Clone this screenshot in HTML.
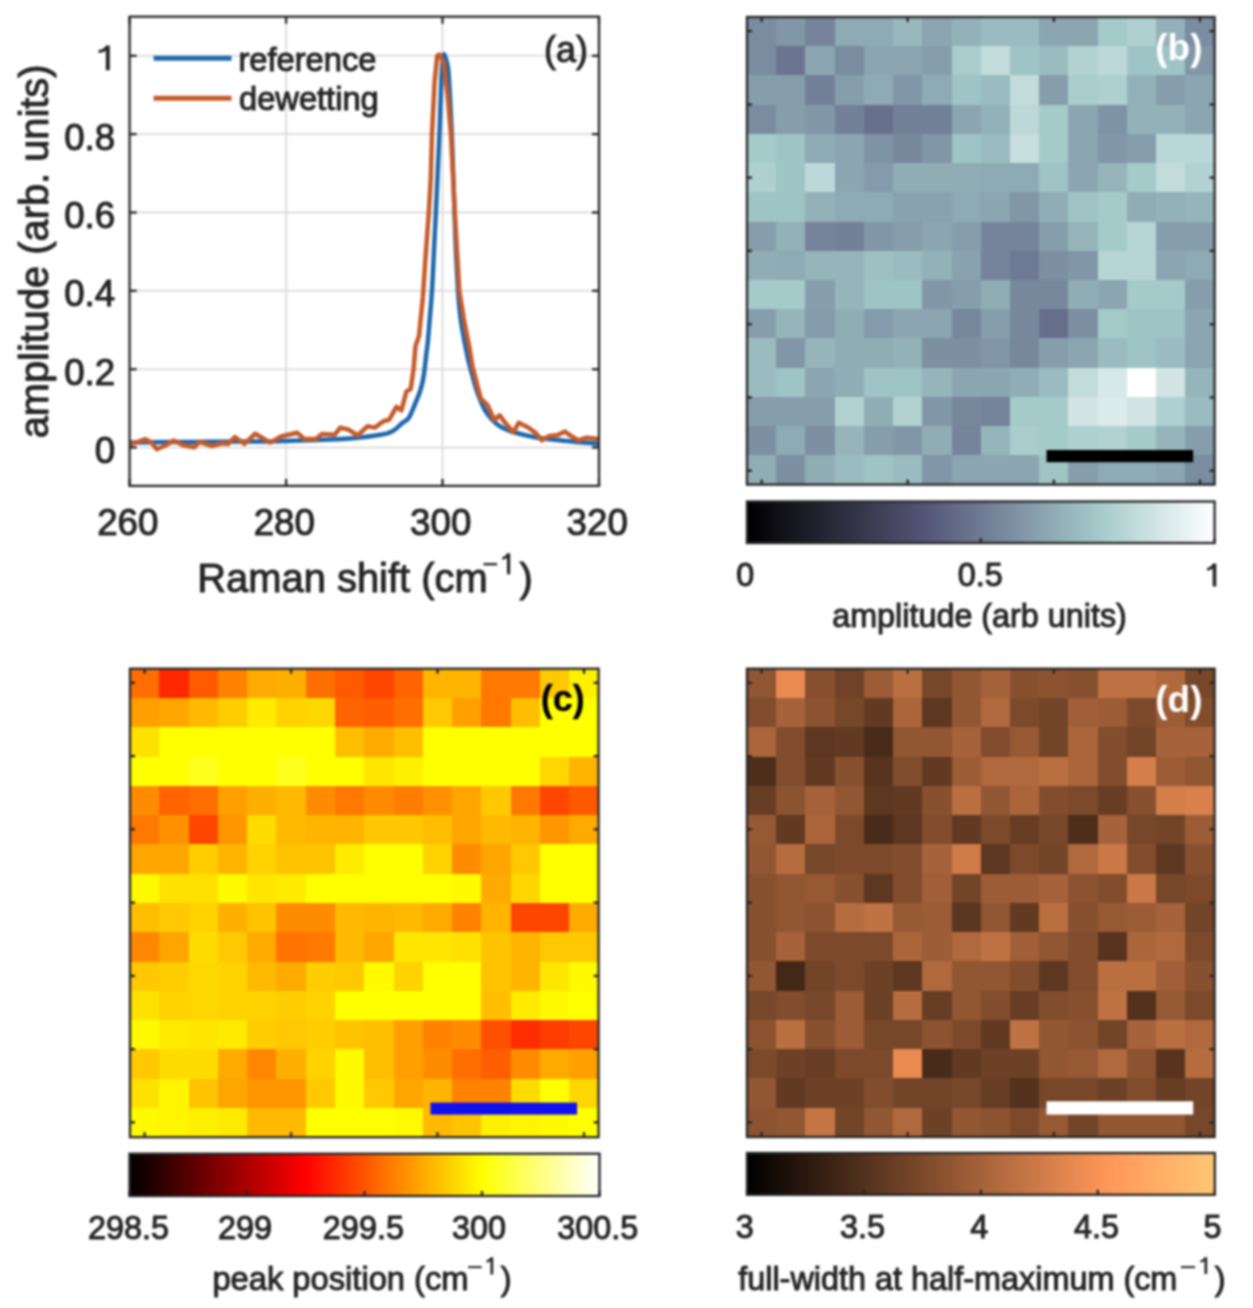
<!DOCTYPE html><html><head><meta charset="utf-8"><style>html,body{margin:0;padding:0;background:#fff;overflow:hidden;}svg{display:block;}text{font-family:"Liberation Sans",sans-serif;}</style></head><body>
<svg width="1253" height="1308" viewBox="0 0 1253 1308">
<defs><filter id="bl" x="-2%" y="-2%" width="104%" height="104%" color-interpolation-filters="sRGB"><feGaussianBlur stdDeviation="0.9"/></filter>
<linearGradient id="gb" x1="0" x2="1" y1="0" y2="0"><stop offset="0.0000" stop-color="#000000"/><stop offset="0.0078" stop-color="#020202"/><stop offset="0.0156" stop-color="#030305"/><stop offset="0.0234" stop-color="#050507"/><stop offset="0.0312" stop-color="#07070a"/><stop offset="0.0391" stop-color="#09090c"/><stop offset="0.0469" stop-color="#0a0a0e"/><stop offset="0.0547" stop-color="#0c0c11"/><stop offset="0.0625" stop-color="#0e0e13"/><stop offset="0.0703" stop-color="#101016"/><stop offset="0.0781" stop-color="#111118"/><stop offset="0.0859" stop-color="#13131a"/><stop offset="0.0938" stop-color="#15151d"/><stop offset="0.1016" stop-color="#17171f"/><stop offset="0.1094" stop-color="#181822"/><stop offset="0.1172" stop-color="#1a1a24"/><stop offset="0.1250" stop-color="#1c1c27"/><stop offset="0.1328" stop-color="#1e1e29"/><stop offset="0.1406" stop-color="#1f1f2b"/><stop offset="0.1484" stop-color="#21212e"/><stop offset="0.1562" stop-color="#232330"/><stop offset="0.1641" stop-color="#252533"/><stop offset="0.1719" stop-color="#262635"/><stop offset="0.1797" stop-color="#282837"/><stop offset="0.1875" stop-color="#2a2a3a"/><stop offset="0.1953" stop-color="#2c2c3c"/><stop offset="0.2031" stop-color="#2d2d3f"/><stop offset="0.2109" stop-color="#2f2f41"/><stop offset="0.2188" stop-color="#313143"/><stop offset="0.2266" stop-color="#333346"/><stop offset="0.2344" stop-color="#343448"/><stop offset="0.2422" stop-color="#36364b"/><stop offset="0.2500" stop-color="#38384d"/><stop offset="0.2578" stop-color="#3a3a4f"/><stop offset="0.2656" stop-color="#3b3b52"/><stop offset="0.2734" stop-color="#3d3d54"/><stop offset="0.2812" stop-color="#3f3f57"/><stop offset="0.2891" stop-color="#404059"/><stop offset="0.2969" stop-color="#42425b"/><stop offset="0.3047" stop-color="#44445e"/><stop offset="0.3125" stop-color="#464661"/><stop offset="0.3203" stop-color="#474763"/><stop offset="0.3281" stop-color="#494966"/><stop offset="0.3359" stop-color="#4b4b68"/><stop offset="0.3438" stop-color="#4d4d6b"/><stop offset="0.3516" stop-color="#4e4e6d"/><stop offset="0.3594" stop-color="#505070"/><stop offset="0.3672" stop-color="#525273"/><stop offset="0.3750" stop-color="#535375"/><stop offset="0.3828" stop-color="#555677"/><stop offset="0.3906" stop-color="#575879"/><stop offset="0.3984" stop-color="#595b7b"/><stop offset="0.4062" stop-color="#5a5d7d"/><stop offset="0.4141" stop-color="#5c607f"/><stop offset="0.4219" stop-color="#5e6281"/><stop offset="0.4297" stop-color="#5f6482"/><stop offset="0.4375" stop-color="#616784"/><stop offset="0.4453" stop-color="#636986"/><stop offset="0.4531" stop-color="#646c88"/><stop offset="0.4609" stop-color="#666e8a"/><stop offset="0.4688" stop-color="#67718c"/><stop offset="0.4766" stop-color="#69738d"/><stop offset="0.4844" stop-color="#6b758f"/><stop offset="0.4922" stop-color="#6c7891"/><stop offset="0.5000" stop-color="#6e7a93"/><stop offset="0.5078" stop-color="#707d95"/><stop offset="0.5156" stop-color="#717f97"/><stop offset="0.5234" stop-color="#738298"/><stop offset="0.5312" stop-color="#74849a"/><stop offset="0.5391" stop-color="#76879c"/><stop offset="0.5469" stop-color="#78899e"/><stop offset="0.5547" stop-color="#798c9f"/><stop offset="0.5625" stop-color="#7b8ea1"/><stop offset="0.5703" stop-color="#7d90a3"/><stop offset="0.5781" stop-color="#7e93a4"/><stop offset="0.5859" stop-color="#8095a6"/><stop offset="0.5938" stop-color="#8298a8"/><stop offset="0.6016" stop-color="#839aa9"/><stop offset="0.6094" stop-color="#859dab"/><stop offset="0.6172" stop-color="#879fad"/><stop offset="0.6250" stop-color="#88a2ae"/><stop offset="0.6328" stop-color="#8aa4b0"/><stop offset="0.6406" stop-color="#8ca7b2"/><stop offset="0.6484" stop-color="#8da9b3"/><stop offset="0.6562" stop-color="#8facb5"/><stop offset="0.6641" stop-color="#91aeb7"/><stop offset="0.6719" stop-color="#92b1b8"/><stop offset="0.6797" stop-color="#94b3ba"/><stop offset="0.6875" stop-color="#96b5bc"/><stop offset="0.6953" stop-color="#97b8bd"/><stop offset="0.7031" stop-color="#99babf"/><stop offset="0.7109" stop-color="#9bbdc1"/><stop offset="0.7188" stop-color="#9cbfc2"/><stop offset="0.7266" stop-color="#9ec2c4"/><stop offset="0.7344" stop-color="#a0c4c6"/><stop offset="0.7422" stop-color="#a1c7c7"/><stop offset="0.7500" stop-color="#a3c9c9"/><stop offset="0.7578" stop-color="#a6cbcb"/><stop offset="0.7656" stop-color="#a9cccc"/><stop offset="0.7734" stop-color="#accece"/><stop offset="0.7812" stop-color="#aed0d0"/><stop offset="0.7891" stop-color="#b1d2d2"/><stop offset="0.7969" stop-color="#b4d3d3"/><stop offset="0.8047" stop-color="#b7d5d5"/><stop offset="0.8125" stop-color="#bad7d7"/><stop offset="0.8203" stop-color="#bdd8d8"/><stop offset="0.8281" stop-color="#c0dada"/><stop offset="0.8359" stop-color="#c3dcdc"/><stop offset="0.8438" stop-color="#c5dddd"/><stop offset="0.8516" stop-color="#c8dfdf"/><stop offset="0.8594" stop-color="#cbe1e1"/><stop offset="0.8672" stop-color="#cee2e2"/><stop offset="0.8750" stop-color="#d1e4e4"/><stop offset="0.8828" stop-color="#d4e6e6"/><stop offset="0.8906" stop-color="#d7e7e7"/><stop offset="0.8984" stop-color="#dae9e9"/><stop offset="0.9062" stop-color="#dcebeb"/><stop offset="0.9141" stop-color="#dfecec"/><stop offset="0.9219" stop-color="#e2eeee"/><stop offset="0.9297" stop-color="#e5f0f0"/><stop offset="0.9375" stop-color="#e8f2f2"/><stop offset="0.9453" stop-color="#ebf3f3"/><stop offset="0.9531" stop-color="#eef5f5"/><stop offset="0.9609" stop-color="#f1f7f7"/><stop offset="0.9688" stop-color="#f3f8f8"/><stop offset="0.9766" stop-color="#f6fafa"/><stop offset="0.9844" stop-color="#f9fcfc"/><stop offset="0.9922" stop-color="#fcfdfd"/><stop offset="1.0000" stop-color="#ffffff"/></linearGradient><linearGradient id="gc" x1="0" x2="1" y1="0" y2="0"><stop offset="0.0000" stop-color="#000000"/><stop offset="0.0078" stop-color="#050000"/><stop offset="0.0156" stop-color="#0b0000"/><stop offset="0.0234" stop-color="#100000"/><stop offset="0.0312" stop-color="#150000"/><stop offset="0.0391" stop-color="#1b0000"/><stop offset="0.0469" stop-color="#200000"/><stop offset="0.0547" stop-color="#250000"/><stop offset="0.0625" stop-color="#2a0000"/><stop offset="0.0703" stop-color="#300000"/><stop offset="0.0781" stop-color="#350000"/><stop offset="0.0859" stop-color="#3a0000"/><stop offset="0.0938" stop-color="#400000"/><stop offset="0.1016" stop-color="#450000"/><stop offset="0.1094" stop-color="#4a0000"/><stop offset="0.1172" stop-color="#500000"/><stop offset="0.1250" stop-color="#550000"/><stop offset="0.1328" stop-color="#5a0000"/><stop offset="0.1406" stop-color="#600000"/><stop offset="0.1484" stop-color="#650000"/><stop offset="0.1562" stop-color="#6a0000"/><stop offset="0.1641" stop-color="#700000"/><stop offset="0.1719" stop-color="#750000"/><stop offset="0.1797" stop-color="#7a0000"/><stop offset="0.1875" stop-color="#800000"/><stop offset="0.1953" stop-color="#850000"/><stop offset="0.2031" stop-color="#8a0000"/><stop offset="0.2109" stop-color="#8f0000"/><stop offset="0.2188" stop-color="#950000"/><stop offset="0.2266" stop-color="#9a0000"/><stop offset="0.2344" stop-color="#9f0000"/><stop offset="0.2422" stop-color="#a50000"/><stop offset="0.2500" stop-color="#aa0000"/><stop offset="0.2578" stop-color="#af0000"/><stop offset="0.2656" stop-color="#b50000"/><stop offset="0.2734" stop-color="#ba0000"/><stop offset="0.2812" stop-color="#bf0000"/><stop offset="0.2891" stop-color="#c50000"/><stop offset="0.2969" stop-color="#ca0000"/><stop offset="0.3047" stop-color="#cf0000"/><stop offset="0.3125" stop-color="#d40000"/><stop offset="0.3203" stop-color="#da0000"/><stop offset="0.3281" stop-color="#df0000"/><stop offset="0.3359" stop-color="#e40000"/><stop offset="0.3438" stop-color="#ea0000"/><stop offset="0.3516" stop-color="#ef0000"/><stop offset="0.3594" stop-color="#f40000"/><stop offset="0.3672" stop-color="#fa0000"/><stop offset="0.3750" stop-color="#ff0000"/><stop offset="0.3828" stop-color="#ff0500"/><stop offset="0.3906" stop-color="#ff0b00"/><stop offset="0.3984" stop-color="#ff1000"/><stop offset="0.4062" stop-color="#ff1500"/><stop offset="0.4141" stop-color="#ff1b00"/><stop offset="0.4219" stop-color="#ff2000"/><stop offset="0.4297" stop-color="#ff2500"/><stop offset="0.4375" stop-color="#ff2a00"/><stop offset="0.4453" stop-color="#ff3000"/><stop offset="0.4531" stop-color="#ff3500"/><stop offset="0.4609" stop-color="#ff3a00"/><stop offset="0.4688" stop-color="#ff4000"/><stop offset="0.4766" stop-color="#ff4500"/><stop offset="0.4844" stop-color="#ff4a00"/><stop offset="0.4922" stop-color="#ff5000"/><stop offset="0.5000" stop-color="#ff5500"/><stop offset="0.5078" stop-color="#ff5a00"/><stop offset="0.5156" stop-color="#ff6000"/><stop offset="0.5234" stop-color="#ff6500"/><stop offset="0.5312" stop-color="#ff6a00"/><stop offset="0.5391" stop-color="#ff7000"/><stop offset="0.5469" stop-color="#ff7500"/><stop offset="0.5547" stop-color="#ff7a00"/><stop offset="0.5625" stop-color="#ff8000"/><stop offset="0.5703" stop-color="#ff8500"/><stop offset="0.5781" stop-color="#ff8a00"/><stop offset="0.5859" stop-color="#ff8f00"/><stop offset="0.5938" stop-color="#ff9500"/><stop offset="0.6016" stop-color="#ff9a00"/><stop offset="0.6094" stop-color="#ff9f00"/><stop offset="0.6172" stop-color="#ffa500"/><stop offset="0.6250" stop-color="#ffaa00"/><stop offset="0.6328" stop-color="#ffaf00"/><stop offset="0.6406" stop-color="#ffb500"/><stop offset="0.6484" stop-color="#ffba00"/><stop offset="0.6562" stop-color="#ffbf00"/><stop offset="0.6641" stop-color="#ffc500"/><stop offset="0.6719" stop-color="#ffca00"/><stop offset="0.6797" stop-color="#ffcf00"/><stop offset="0.6875" stop-color="#ffd400"/><stop offset="0.6953" stop-color="#ffda00"/><stop offset="0.7031" stop-color="#ffdf00"/><stop offset="0.7109" stop-color="#ffe400"/><stop offset="0.7188" stop-color="#ffea00"/><stop offset="0.7266" stop-color="#ffef00"/><stop offset="0.7344" stop-color="#fff400"/><stop offset="0.7422" stop-color="#fffa00"/><stop offset="0.7500" stop-color="#ffff00"/><stop offset="0.7578" stop-color="#ffff08"/><stop offset="0.7656" stop-color="#ffff10"/><stop offset="0.7734" stop-color="#ffff18"/><stop offset="0.7812" stop-color="#ffff20"/><stop offset="0.7891" stop-color="#ffff28"/><stop offset="0.7969" stop-color="#ffff30"/><stop offset="0.8047" stop-color="#ffff38"/><stop offset="0.8125" stop-color="#ffff40"/><stop offset="0.8203" stop-color="#ffff48"/><stop offset="0.8281" stop-color="#ffff50"/><stop offset="0.8359" stop-color="#ffff58"/><stop offset="0.8438" stop-color="#ffff60"/><stop offset="0.8516" stop-color="#ffff68"/><stop offset="0.8594" stop-color="#ffff70"/><stop offset="0.8672" stop-color="#ffff78"/><stop offset="0.8750" stop-color="#ffff80"/><stop offset="0.8828" stop-color="#ffff87"/><stop offset="0.8906" stop-color="#ffff8f"/><stop offset="0.8984" stop-color="#ffff97"/><stop offset="0.9062" stop-color="#ffff9f"/><stop offset="0.9141" stop-color="#ffffa7"/><stop offset="0.9219" stop-color="#ffffaf"/><stop offset="0.9297" stop-color="#ffffb7"/><stop offset="0.9375" stop-color="#ffffbf"/><stop offset="0.9453" stop-color="#ffffc7"/><stop offset="0.9531" stop-color="#ffffcf"/><stop offset="0.9609" stop-color="#ffffd7"/><stop offset="0.9688" stop-color="#ffffdf"/><stop offset="0.9766" stop-color="#ffffe7"/><stop offset="0.9844" stop-color="#ffffef"/><stop offset="0.9922" stop-color="#fffff7"/><stop offset="1.0000" stop-color="#ffffff"/></linearGradient><linearGradient id="gd" x1="0" x2="1" y1="0" y2="0"><stop offset="0.0000" stop-color="#000000"/><stop offset="0.0078" stop-color="#030201"/><stop offset="0.0156" stop-color="#050302"/><stop offset="0.0234" stop-color="#080503"/><stop offset="0.0312" stop-color="#0a0604"/><stop offset="0.0391" stop-color="#0d0804"/><stop offset="0.0469" stop-color="#0f0905"/><stop offset="0.0547" stop-color="#120b06"/><stop offset="0.0625" stop-color="#150c07"/><stop offset="0.0703" stop-color="#170e08"/><stop offset="0.0781" stop-color="#1a0f09"/><stop offset="0.0859" stop-color="#1c110a"/><stop offset="0.0938" stop-color="#1f120b"/><stop offset="0.1016" stop-color="#21140c"/><stop offset="0.1094" stop-color="#24150d"/><stop offset="0.1172" stop-color="#27170d"/><stop offset="0.1250" stop-color="#29180e"/><stop offset="0.1328" stop-color="#2c1a0f"/><stop offset="0.1406" stop-color="#2e1c10"/><stop offset="0.1484" stop-color="#311d11"/><stop offset="0.1562" stop-color="#341f12"/><stop offset="0.1641" stop-color="#362013"/><stop offset="0.1719" stop-color="#392214"/><stop offset="0.1797" stop-color="#3b2315"/><stop offset="0.1875" stop-color="#3e2516"/><stop offset="0.1953" stop-color="#402616"/><stop offset="0.2031" stop-color="#432817"/><stop offset="0.2109" stop-color="#462918"/><stop offset="0.2188" stop-color="#482b19"/><stop offset="0.2266" stop-color="#4b2c1a"/><stop offset="0.2344" stop-color="#4d2e1b"/><stop offset="0.2422" stop-color="#502f1c"/><stop offset="0.2500" stop-color="#52311d"/><stop offset="0.2578" stop-color="#55331e"/><stop offset="0.2656" stop-color="#58341f"/><stop offset="0.2734" stop-color="#5a361f"/><stop offset="0.2812" stop-color="#5d3720"/><stop offset="0.2891" stop-color="#5f3921"/><stop offset="0.2969" stop-color="#623a22"/><stop offset="0.3047" stop-color="#643c23"/><stop offset="0.3125" stop-color="#673d24"/><stop offset="0.3203" stop-color="#6a3f25"/><stop offset="0.3281" stop-color="#6c4026"/><stop offset="0.3359" stop-color="#6f4227"/><stop offset="0.3438" stop-color="#714327"/><stop offset="0.3516" stop-color="#744528"/><stop offset="0.3594" stop-color="#774629"/><stop offset="0.3672" stop-color="#79482a"/><stop offset="0.3750" stop-color="#7c492b"/><stop offset="0.3828" stop-color="#7e4b2c"/><stop offset="0.3906" stop-color="#814d2d"/><stop offset="0.3984" stop-color="#834e2e"/><stop offset="0.4062" stop-color="#86502f"/><stop offset="0.4141" stop-color="#895130"/><stop offset="0.4219" stop-color="#8b5330"/><stop offset="0.4297" stop-color="#8e5431"/><stop offset="0.4375" stop-color="#905632"/><stop offset="0.4453" stop-color="#935733"/><stop offset="0.4531" stop-color="#955934"/><stop offset="0.4609" stop-color="#985a35"/><stop offset="0.4688" stop-color="#9b5c36"/><stop offset="0.4766" stop-color="#9d5d37"/><stop offset="0.4844" stop-color="#a05f38"/><stop offset="0.4922" stop-color="#a26039"/><stop offset="0.5000" stop-color="#a56239"/><stop offset="0.5078" stop-color="#a7633a"/><stop offset="0.5156" stop-color="#aa653b"/><stop offset="0.5234" stop-color="#ad673c"/><stop offset="0.5312" stop-color="#af683d"/><stop offset="0.5391" stop-color="#b26a3e"/><stop offset="0.5469" stop-color="#b46b3f"/><stop offset="0.5547" stop-color="#b76d40"/><stop offset="0.5625" stop-color="#ba6e41"/><stop offset="0.5703" stop-color="#bc7042"/><stop offset="0.5781" stop-color="#bf7142"/><stop offset="0.5859" stop-color="#c17343"/><stop offset="0.5938" stop-color="#c47444"/><stop offset="0.6016" stop-color="#c67645"/><stop offset="0.6094" stop-color="#c97746"/><stop offset="0.6172" stop-color="#cc7947"/><stop offset="0.6250" stop-color="#ce7a48"/><stop offset="0.6328" stop-color="#d17c49"/><stop offset="0.6406" stop-color="#d37e4a"/><stop offset="0.6484" stop-color="#d67f4a"/><stop offset="0.6562" stop-color="#d8814b"/><stop offset="0.6641" stop-color="#db824c"/><stop offset="0.6719" stop-color="#de844d"/><stop offset="0.6797" stop-color="#e0854e"/><stop offset="0.6875" stop-color="#e3874f"/><stop offset="0.6953" stop-color="#e58850"/><stop offset="0.7031" stop-color="#e88a51"/><stop offset="0.7109" stop-color="#ea8b52"/><stop offset="0.7188" stop-color="#ed8d53"/><stop offset="0.7266" stop-color="#f08e53"/><stop offset="0.7344" stop-color="#f29054"/><stop offset="0.7422" stop-color="#f59155"/><stop offset="0.7500" stop-color="#f79356"/><stop offset="0.7578" stop-color="#fa9457"/><stop offset="0.7656" stop-color="#fc9658"/><stop offset="0.7734" stop-color="#ff9859"/><stop offset="0.7812" stop-color="#ff995a"/><stop offset="0.7891" stop-color="#ff9b5b"/><stop offset="0.7969" stop-color="#ff9c5c"/><stop offset="0.8047" stop-color="#ff9e5c"/><stop offset="0.8125" stop-color="#ff9f5d"/><stop offset="0.8203" stop-color="#ffa15e"/><stop offset="0.8281" stop-color="#ffa35f"/><stop offset="0.8359" stop-color="#ffa460"/><stop offset="0.8438" stop-color="#ffa661"/><stop offset="0.8516" stop-color="#ffa762"/><stop offset="0.8594" stop-color="#ffa963"/><stop offset="0.8672" stop-color="#ffab64"/><stop offset="0.8750" stop-color="#ffac65"/><stop offset="0.8828" stop-color="#ffae66"/><stop offset="0.8906" stop-color="#ffb067"/><stop offset="0.8984" stop-color="#ffb168"/><stop offset="0.9062" stop-color="#ffb369"/><stop offset="0.9141" stop-color="#ffb46a"/><stop offset="0.9219" stop-color="#ffb66b"/><stop offset="0.9297" stop-color="#ffb86c"/><stop offset="0.9375" stop-color="#ffb96d"/><stop offset="0.9453" stop-color="#ffbb6e"/><stop offset="0.9531" stop-color="#ffbc6f"/><stop offset="0.9609" stop-color="#ffbe70"/><stop offset="0.9688" stop-color="#ffc071"/><stop offset="0.9766" stop-color="#ffc172"/><stop offset="0.9844" stop-color="#ffc373"/><stop offset="0.9922" stop-color="#ffc574"/><stop offset="1.0000" stop-color="#ffc675"/></linearGradient></defs>
<rect width="100%" height="100%" fill="#fff"/>
<g filter="url(#bl)">
<rect width="100%" height="100%" fill="#fff"/>
<g stroke="#dedede" stroke-width="2"><line x1="286.1" y1="16.7" x2="286.1" y2="485.9"/><line x1="442.5" y1="16.7" x2="442.5" y2="485.9"/><line x1="129.6" y1="447.5" x2="599.0" y2="447.5"/><line x1="129.6" y1="369.2" x2="599.0" y2="369.2"/><line x1="129.6" y1="290.8" x2="599.0" y2="290.8"/><line x1="129.6" y1="212.5" x2="599.0" y2="212.5"/><line x1="129.6" y1="134.1" x2="599.0" y2="134.1"/><line x1="129.6" y1="55.8" x2="599.0" y2="55.8"/></g>
<svg x="129.6" y="16.7" width="469.4" height="469.2" viewBox="129.6 16.7 469.4 469.2" overflow="hidden">
<path d="M129.6,442.6 C133.0,442.6 141.6,442.4 150.0,442.3 C158.4,442.2 170.0,442.1 180.0,442.0 C190.0,441.9 200.0,441.9 210.0,441.8 C220.0,441.7 230.0,441.7 240.0,441.6 C250.0,441.5 260.0,441.6 270.0,441.4 C280.0,441.2 290.0,440.9 300.0,440.6 C310.0,440.3 320.8,440.0 330.0,439.6 C339.2,439.2 346.6,438.8 355.0,438.0 C363.4,437.2 374.4,435.9 380.6,434.8 C386.8,433.7 388.4,433.4 392.0,431.5 C395.6,429.6 399.2,425.6 402.0,423.3 C404.8,421.0 406.6,421.3 409.0,417.5 C411.4,413.7 414.6,404.9 416.5,400.3 C418.4,395.7 419.3,394.1 420.5,390.0 C421.7,385.9 422.8,381.7 423.7,375.9 C424.6,370.1 425.5,361.0 426.2,355.0 C426.9,349.0 427.4,346.5 428.0,340.0 C428.6,333.5 429.3,324.2 430.0,316.0 C430.7,307.8 431.3,301.5 432.0,290.5 C432.7,279.5 433.4,263.1 434.0,250.0 C434.6,236.9 435.3,225.2 435.9,211.9 C436.5,198.6 437.2,183.7 437.8,170.0 C438.4,156.3 439.1,141.5 439.6,130.0 C440.1,118.5 440.2,110.9 440.6,101.2 C441.0,91.5 441.3,79.7 441.8,72.0 C442.3,64.3 443.0,56.8 443.7,54.8 C444.4,52.8 445.4,57.4 446.2,60.0 C447.0,62.6 447.6,63.7 448.3,70.6 C449.0,77.5 449.6,89.7 450.2,101.2 C450.8,112.7 451.4,124.6 452.0,139.4 C452.6,154.2 453.2,173.2 453.8,190.0 C454.4,206.8 454.8,223.2 455.5,240.0 C456.2,256.8 457.2,277.5 458.0,290.5 C458.8,303.5 459.6,310.4 460.5,318.0 C461.4,325.6 462.6,330.8 463.5,336.0 C464.4,341.2 465.2,344.8 466.0,349.0 C466.8,353.2 467.5,356.8 468.5,361.0 C469.5,365.2 470.7,369.2 472.0,374.0 C473.3,378.8 474.4,384.0 476.5,390.0 C478.6,396.0 482.1,404.9 484.8,410.0 C487.6,415.1 490.3,417.7 493.0,420.5 C495.7,423.3 497.3,425.0 501.0,427.0 C504.7,429.0 509.3,430.8 515.0,432.5 C520.7,434.2 527.5,435.9 535.0,437.2 C542.5,438.5 552.5,439.4 560.0,440.3 C567.5,441.2 573.5,441.7 580.0,442.3 C586.5,442.9 595.6,443.6 598.7,443.8" fill="none" stroke="#1e68ac" stroke-width="4.5" stroke-linejoin="round"/>
<polyline points="129.1,444.6 135.9,442.6 145.4,439.2 150.8,441.9 156.9,449.3 164.3,446.0 173.8,440.5 183.3,445.3 194.2,447.3 199.6,441.9 211.8,446.0 222.7,443.2 228.1,443.9 234.9,437.1 244.4,443.9 255.3,433.7 270.2,442.6 281.0,436.5 297.2,432.7 304.4,439.1 315.9,439.1 321.7,434.1 334.6,434.8 340.3,427.6 349.0,429.8 357.6,435.5 367.6,426.2 374.8,427.6 383.4,421.2 389.2,419.7 396.4,406.8 401.4,410.4 406.4,391.7 410.7,388.9 413.6,368.7 415.5,346.0 419.0,336.0 422.9,297.0 425.5,258.0 428.8,212.5 430.7,180.0 432.0,134.0 434.6,82.0 437.2,56.0 439.2,54.7 443.7,62.5 447.6,95.0 450.9,134.0 454.4,205.0 459.3,290.5 464.5,323.0 469.7,349.0 472.6,367.0 480.7,398.3 487.5,405.0 494.3,420.0 499.7,415.3 505.1,422.8 513.3,432.3 518.7,422.8 528.2,427.5 535.0,432.3 541.8,440.4 548.5,436.3 558.0,435.0 564.8,431.6 571.6,436.3 578.4,440.4 586.5,437.7 598.7,439.0" fill="none" stroke="#c65a2a" stroke-width="4.5" stroke-linejoin="round"/>
</svg>
<line x1="153.6" y1="58.2" x2="231.5" y2="58.2" stroke="#1e68ac" stroke-width="5"/>
<line x1="153.6" y1="98.3" x2="231.5" y2="98.3" stroke="#c65a2a" stroke-width="5"/>
<text x="238.5" y="70.8" font-size="32.65" fill="#262626" stroke="#262626" stroke-width="1.0">reference</text>
<text x="239.0" y="110.3" font-size="32.65" fill="#262626" stroke="#262626" stroke-width="1.0">dewetting</text>
<text x="543.9" y="62.4" font-size="36" fill="#262626" stroke="#262626" stroke-width="1.0">(a)</text>
<g stroke="#262626" stroke-width="2.3"><line x1="129.6" y1="485.9" x2="129.6" y2="478.9"/><line x1="129.6" y1="16.7" x2="129.6" y2="23.7"/><line x1="286.1" y1="485.9" x2="286.1" y2="478.9"/><line x1="286.1" y1="16.7" x2="286.1" y2="23.7"/><line x1="442.5" y1="485.9" x2="442.5" y2="478.9"/><line x1="442.5" y1="16.7" x2="442.5" y2="23.7"/><line x1="599.0" y1="485.9" x2="599.0" y2="478.9"/><line x1="599.0" y1="16.7" x2="599.0" y2="23.7"/><line x1="129.6" y1="447.5" x2="136.6" y2="447.5"/><line x1="599.0" y1="447.5" x2="592.0" y2="447.5"/><line x1="129.6" y1="369.2" x2="136.6" y2="369.2"/><line x1="599.0" y1="369.2" x2="592.0" y2="369.2"/><line x1="129.6" y1="290.8" x2="136.6" y2="290.8"/><line x1="599.0" y1="290.8" x2="592.0" y2="290.8"/><line x1="129.6" y1="212.5" x2="136.6" y2="212.5"/><line x1="599.0" y1="212.5" x2="592.0" y2="212.5"/><line x1="129.6" y1="134.1" x2="136.6" y2="134.1"/><line x1="599.0" y1="134.1" x2="592.0" y2="134.1"/><line x1="129.6" y1="55.8" x2="136.6" y2="55.8"/><line x1="599.0" y1="55.8" x2="592.0" y2="55.8"/></g>
<rect x="129.6" y="16.7" width="469.4" height="469.2" fill="none" stroke="#262626" stroke-width="2.3"/>
<text x="115.2" y="462.9" font-size="36.7" text-anchor="end" fill="#262626" stroke="#262626" stroke-width="1.0">0</text>
<text x="115.2" y="384.6" font-size="36.7" text-anchor="end" fill="#262626" stroke="#262626" stroke-width="1.0">0.2</text>
<text x="115.2" y="306.2" font-size="36.7" text-anchor="end" fill="#262626" stroke="#262626" stroke-width="1.0">0.4</text>
<text x="115.2" y="227.9" font-size="36.7" text-anchor="end" fill="#262626" stroke="#262626" stroke-width="1.0">0.6</text>
<text x="115.2" y="149.5" font-size="36.7" text-anchor="end" fill="#262626" stroke="#262626" stroke-width="1.0">0.8</text>
<path d="M105.83,70.20 L109.80,70.20 L109.80,45.40 L106.03,45.40 Q104.49,48.87 98.60,50.11 L98.60,53.09 Q103.64,52.59 105.83,50.86 Z" fill="#262626"/>
<text x="127.8" y="535.0" font-size="36.7" text-anchor="middle" fill="#262626" stroke="#262626" stroke-width="1.0">260</text>
<text x="284.3" y="535.0" font-size="36.7" text-anchor="middle" fill="#262626" stroke="#262626" stroke-width="1.0">280</text>
<text x="440.7" y="535.0" font-size="36.7" text-anchor="middle" fill="#262626" stroke="#262626" stroke-width="1.0">300</text>
<text x="597.2" y="535.0" font-size="36.7" text-anchor="middle" fill="#262626" stroke="#262626" stroke-width="1.0">320</text>
<text x="197.3" y="592.0" font-size="39.9" fill="#262626" stroke="#262626" stroke-width="1.0">Raman shift (cm</text>
<rect x="483.5" y="563.05" width="13.6" height="2.3" fill="#262626"/>
<path d="M507.00,574.30 L510.20,574.30 L510.20,553.20 L507.16,553.20 Q506.04,556.15 502.20,557.21 L502.20,559.74 Q505.80,559.32 507.00,557.84 Z" fill="#262626"/>
<text x="519.4" y="592.0" font-size="39.9" fill="#262626" stroke="#262626" stroke-width="1.0">)</text>
<text transform="translate(48.2,438.3) rotate(-90)" font-size="39.8" fill="#262626" stroke="#262626" stroke-width="1.0">amplitude (arb. units)</text>
<g shape-rendering="crispEdges"><rect x="747.00" y="17.00" width="29.82" height="29.83" fill="#798ca0"/><rect x="776.23" y="17.00" width="29.82" height="29.83" fill="#8197a7"/><rect x="805.45" y="17.00" width="29.82" height="29.83" fill="#75849a"/><rect x="834.67" y="17.00" width="29.82" height="29.83" fill="#8eaab4"/><rect x="863.90" y="17.00" width="29.82" height="29.83" fill="#8eaab4"/><rect x="893.12" y="17.00" width="29.82" height="29.83" fill="#98b8be"/><rect x="922.35" y="17.00" width="29.82" height="29.83" fill="#8ba6b1"/><rect x="951.57" y="17.00" width="29.82" height="29.83" fill="#93b1b9"/><rect x="980.80" y="17.00" width="29.82" height="29.83" fill="#9abcc0"/><rect x="1010.02" y="17.00" width="29.82" height="29.83" fill="#9abcc0"/><rect x="1039.25" y="17.00" width="29.82" height="29.83" fill="#8ba6b1"/><rect x="1068.47" y="17.00" width="29.82" height="29.83" fill="#8ba6b1"/><rect x="1097.70" y="17.00" width="29.82" height="29.83" fill="#a5caca"/><rect x="1126.92" y="17.00" width="29.82" height="29.83" fill="#aed0d0"/><rect x="1156.15" y="17.00" width="29.82" height="29.83" fill="#93b1b9"/><rect x="1185.38" y="17.00" width="29.82" height="29.83" fill="#798ca0"/><rect x="747.00" y="46.23" width="29.82" height="29.83" fill="#798ca0"/><rect x="776.23" y="46.23" width="29.82" height="29.83" fill="#6a748e"/><rect x="805.45" y="46.23" width="29.82" height="29.83" fill="#8ba6b1"/><rect x="834.67" y="46.23" width="29.82" height="29.83" fill="#798ca0"/><rect x="863.90" y="46.23" width="29.82" height="29.83" fill="#8ba6b1"/><rect x="893.12" y="46.23" width="29.82" height="29.83" fill="#8ba6b1"/><rect x="922.35" y="46.23" width="29.82" height="29.83" fill="#869eac"/><rect x="951.57" y="46.23" width="29.82" height="29.83" fill="#a9cdcd"/><rect x="980.80" y="46.23" width="29.82" height="29.83" fill="#c2dbdb"/><rect x="1010.02" y="46.23" width="29.82" height="29.83" fill="#9fc4c5"/><rect x="1039.25" y="46.23" width="29.82" height="29.83" fill="#9abcc0"/><rect x="1068.47" y="46.23" width="29.82" height="29.83" fill="#b2d2d2"/><rect x="1097.70" y="46.23" width="29.82" height="29.83" fill="#bcd8d8"/><rect x="1126.92" y="46.23" width="29.82" height="29.83" fill="#9fc4c5"/><rect x="1156.15" y="46.23" width="29.82" height="29.83" fill="#9fc4c5"/><rect x="1185.38" y="46.23" width="29.82" height="29.83" fill="#8197a7"/><rect x="747.00" y="75.45" width="29.82" height="29.83" fill="#869eac"/><rect x="776.23" y="75.45" width="29.82" height="29.83" fill="#869eac"/><rect x="805.45" y="75.45" width="29.82" height="29.83" fill="#728198"/><rect x="834.67" y="75.45" width="29.82" height="29.83" fill="#869eac"/><rect x="863.90" y="75.45" width="29.82" height="29.83" fill="#8eaab4"/><rect x="893.12" y="75.45" width="29.82" height="29.83" fill="#8197a7"/><rect x="922.35" y="75.45" width="29.82" height="29.83" fill="#8eaab4"/><rect x="951.57" y="75.45" width="29.82" height="29.83" fill="#9fc4c5"/><rect x="980.80" y="75.45" width="29.82" height="29.83" fill="#9abcc0"/><rect x="1010.02" y="75.45" width="29.82" height="29.83" fill="#c2dbdb"/><rect x="1039.25" y="75.45" width="29.82" height="29.83" fill="#869eac"/><rect x="1068.47" y="75.45" width="29.82" height="29.83" fill="#a9cdcd"/><rect x="1097.70" y="75.45" width="29.82" height="29.83" fill="#aed0d0"/><rect x="1126.92" y="75.45" width="29.82" height="29.83" fill="#93b1b9"/><rect x="1156.15" y="75.45" width="29.82" height="29.83" fill="#869eac"/><rect x="1185.38" y="75.45" width="29.82" height="29.83" fill="#8ba6b1"/><rect x="747.00" y="104.68" width="29.82" height="29.83" fill="#798ca0"/><rect x="776.23" y="104.68" width="29.82" height="29.83" fill="#869eac"/><rect x="805.45" y="104.68" width="29.82" height="29.83" fill="#8197a7"/><rect x="834.67" y="104.68" width="29.82" height="29.83" fill="#728198"/><rect x="863.90" y="104.68" width="29.82" height="29.83" fill="#68718c"/><rect x="893.12" y="104.68" width="29.82" height="29.83" fill="#728198"/><rect x="922.35" y="104.68" width="29.82" height="29.83" fill="#728198"/><rect x="951.57" y="104.68" width="29.82" height="29.83" fill="#8ba6b1"/><rect x="980.80" y="104.68" width="29.82" height="29.83" fill="#93b1b9"/><rect x="1010.02" y="104.68" width="29.82" height="29.83" fill="#bcd8d8"/><rect x="1039.25" y="104.68" width="29.82" height="29.83" fill="#a5caca"/><rect x="1068.47" y="104.68" width="29.82" height="29.83" fill="#8ba6b1"/><rect x="1097.70" y="104.68" width="29.82" height="29.83" fill="#7e93a5"/><rect x="1126.92" y="104.68" width="29.82" height="29.83" fill="#93b1b9"/><rect x="1156.15" y="104.68" width="29.82" height="29.83" fill="#93b1b9"/><rect x="1185.38" y="104.68" width="29.82" height="29.83" fill="#8ba6b1"/><rect x="747.00" y="133.90" width="29.82" height="29.83" fill="#a5caca"/><rect x="776.23" y="133.90" width="29.82" height="29.83" fill="#9fc4c5"/><rect x="805.45" y="133.90" width="29.82" height="29.83" fill="#8eaab4"/><rect x="834.67" y="133.90" width="29.82" height="29.83" fill="#8ba6b1"/><rect x="863.90" y="133.90" width="29.82" height="29.83" fill="#7e93a5"/><rect x="893.12" y="133.90" width="29.82" height="29.83" fill="#77889d"/><rect x="922.35" y="133.90" width="29.82" height="29.83" fill="#8197a7"/><rect x="951.57" y="133.90" width="29.82" height="29.83" fill="#9fc4c5"/><rect x="980.80" y="133.90" width="29.82" height="29.83" fill="#9abcc0"/><rect x="1010.02" y="133.90" width="29.82" height="29.83" fill="#c7dede"/><rect x="1039.25" y="133.90" width="29.82" height="29.83" fill="#a5caca"/><rect x="1068.47" y="133.90" width="29.82" height="29.83" fill="#8ba6b1"/><rect x="1097.70" y="133.90" width="29.82" height="29.83" fill="#8197a7"/><rect x="1126.92" y="133.90" width="29.82" height="29.83" fill="#869eac"/><rect x="1156.15" y="133.90" width="29.82" height="29.83" fill="#bad7d7"/><rect x="1185.38" y="133.90" width="29.82" height="29.83" fill="#bad7d7"/><rect x="747.00" y="163.12" width="29.82" height="29.83" fill="#aed0d0"/><rect x="776.23" y="163.12" width="29.82" height="29.83" fill="#9fc4c5"/><rect x="805.45" y="163.12" width="29.82" height="29.83" fill="#bcd8d8"/><rect x="834.67" y="163.12" width="29.82" height="29.83" fill="#8ba6b1"/><rect x="863.90" y="163.12" width="29.82" height="29.83" fill="#839baa"/><rect x="893.12" y="163.12" width="29.82" height="29.83" fill="#90adb6"/><rect x="922.35" y="163.12" width="29.82" height="29.83" fill="#90adb6"/><rect x="951.57" y="163.12" width="29.82" height="29.83" fill="#90adb6"/><rect x="980.80" y="163.12" width="29.82" height="29.83" fill="#8eaab4"/><rect x="1010.02" y="163.12" width="29.82" height="29.83" fill="#8eaab4"/><rect x="1039.25" y="163.12" width="29.82" height="29.83" fill="#9fc4c5"/><rect x="1068.47" y="163.12" width="29.82" height="29.83" fill="#8ba6b1"/><rect x="1097.70" y="163.12" width="29.82" height="29.83" fill="#95b5bb"/><rect x="1126.92" y="163.12" width="29.82" height="29.83" fill="#a5caca"/><rect x="1156.15" y="163.12" width="29.82" height="29.83" fill="#c2dbdb"/><rect x="1185.38" y="163.12" width="29.82" height="29.83" fill="#b2d2d2"/><rect x="747.00" y="192.35" width="29.82" height="29.83" fill="#9fc4c5"/><rect x="776.23" y="192.35" width="29.82" height="29.83" fill="#9fc4c5"/><rect x="805.45" y="192.35" width="29.82" height="29.83" fill="#93b1b9"/><rect x="834.67" y="192.35" width="29.82" height="29.83" fill="#8eaab4"/><rect x="863.90" y="192.35" width="29.82" height="29.83" fill="#8eaab4"/><rect x="893.12" y="192.35" width="29.82" height="29.83" fill="#88a2af"/><rect x="922.35" y="192.35" width="29.82" height="29.83" fill="#88a2af"/><rect x="951.57" y="192.35" width="29.82" height="29.83" fill="#8eaab4"/><rect x="980.80" y="192.35" width="29.82" height="29.83" fill="#8ba6b1"/><rect x="1010.02" y="192.35" width="29.82" height="29.83" fill="#8197a7"/><rect x="1039.25" y="192.35" width="29.82" height="29.83" fill="#90adb6"/><rect x="1068.47" y="192.35" width="29.82" height="29.83" fill="#9fc4c5"/><rect x="1097.70" y="192.35" width="29.82" height="29.83" fill="#a5caca"/><rect x="1126.92" y="192.35" width="29.82" height="29.83" fill="#90adb6"/><rect x="1156.15" y="192.35" width="29.82" height="29.83" fill="#93b1b9"/><rect x="1185.38" y="192.35" width="29.82" height="29.83" fill="#95b5bb"/><rect x="747.00" y="221.58" width="29.82" height="29.83" fill="#869eac"/><rect x="776.23" y="221.58" width="29.82" height="29.83" fill="#93b1b9"/><rect x="805.45" y="221.58" width="29.82" height="29.83" fill="#75849a"/><rect x="834.67" y="221.58" width="29.82" height="29.83" fill="#728198"/><rect x="863.90" y="221.58" width="29.82" height="29.83" fill="#8197a7"/><rect x="893.12" y="221.58" width="29.82" height="29.83" fill="#869eac"/><rect x="922.35" y="221.58" width="29.82" height="29.83" fill="#8ba6b1"/><rect x="951.57" y="221.58" width="29.82" height="29.83" fill="#869eac"/><rect x="980.80" y="221.58" width="29.82" height="29.83" fill="#75849a"/><rect x="1010.02" y="221.58" width="29.82" height="29.83" fill="#75849a"/><rect x="1039.25" y="221.58" width="29.82" height="29.83" fill="#869eac"/><rect x="1068.47" y="221.58" width="29.82" height="29.83" fill="#95b5bb"/><rect x="1097.70" y="221.58" width="29.82" height="29.83" fill="#a5caca"/><rect x="1126.92" y="221.58" width="29.82" height="29.83" fill="#b7d5d5"/><rect x="1156.15" y="221.58" width="29.82" height="29.83" fill="#869eac"/><rect x="1185.38" y="221.58" width="29.82" height="29.83" fill="#869eac"/><rect x="747.00" y="250.80" width="29.82" height="29.83" fill="#90adb6"/><rect x="776.23" y="250.80" width="29.82" height="29.83" fill="#8eaab4"/><rect x="805.45" y="250.80" width="29.82" height="29.83" fill="#95b5bb"/><rect x="834.67" y="250.80" width="29.82" height="29.83" fill="#95b5bb"/><rect x="863.90" y="250.80" width="29.82" height="29.83" fill="#9dc0c3"/><rect x="893.12" y="250.80" width="29.82" height="29.83" fill="#9abcc0"/><rect x="922.35" y="250.80" width="29.82" height="29.83" fill="#93b1b9"/><rect x="951.57" y="250.80" width="29.82" height="29.83" fill="#88a2af"/><rect x="980.80" y="250.80" width="29.82" height="29.83" fill="#75849a"/><rect x="1010.02" y="250.80" width="29.82" height="29.83" fill="#6e7a93"/><rect x="1039.25" y="250.80" width="29.82" height="29.83" fill="#7c90a2"/><rect x="1068.47" y="250.80" width="29.82" height="29.83" fill="#8197a7"/><rect x="1097.70" y="250.80" width="29.82" height="29.83" fill="#b7d5d5"/><rect x="1126.92" y="250.80" width="29.82" height="29.83" fill="#b7d5d5"/><rect x="1156.15" y="250.80" width="29.82" height="29.83" fill="#8ba6b1"/><rect x="1185.38" y="250.80" width="29.82" height="29.83" fill="#8eaab4"/><rect x="747.00" y="280.03" width="29.82" height="29.83" fill="#a5caca"/><rect x="776.23" y="280.03" width="29.82" height="29.83" fill="#a5caca"/><rect x="805.45" y="280.03" width="29.82" height="29.83" fill="#869eac"/><rect x="834.67" y="280.03" width="29.82" height="29.83" fill="#95b5bb"/><rect x="863.90" y="280.03" width="29.82" height="29.83" fill="#9fc4c5"/><rect x="893.12" y="280.03" width="29.82" height="29.83" fill="#9fc4c5"/><rect x="922.35" y="280.03" width="29.82" height="29.83" fill="#8197a7"/><rect x="951.57" y="280.03" width="29.82" height="29.83" fill="#869eac"/><rect x="980.80" y="280.03" width="29.82" height="29.83" fill="#90adb6"/><rect x="1010.02" y="280.03" width="29.82" height="29.83" fill="#77889d"/><rect x="1039.25" y="280.03" width="29.82" height="29.83" fill="#77889d"/><rect x="1068.47" y="280.03" width="29.82" height="29.83" fill="#90adb6"/><rect x="1097.70" y="280.03" width="29.82" height="29.83" fill="#8ba6b1"/><rect x="1126.92" y="280.03" width="29.82" height="29.83" fill="#a5caca"/><rect x="1156.15" y="280.03" width="29.82" height="29.83" fill="#a5caca"/><rect x="1185.38" y="280.03" width="29.82" height="29.83" fill="#869eac"/><rect x="747.00" y="309.25" width="29.82" height="29.83" fill="#869eac"/><rect x="776.23" y="309.25" width="29.82" height="29.83" fill="#95b5bb"/><rect x="805.45" y="309.25" width="29.82" height="29.83" fill="#839baa"/><rect x="834.67" y="309.25" width="29.82" height="29.83" fill="#90adb6"/><rect x="863.90" y="309.25" width="29.82" height="29.83" fill="#839baa"/><rect x="893.12" y="309.25" width="29.82" height="29.83" fill="#8ba6b1"/><rect x="922.35" y="309.25" width="29.82" height="29.83" fill="#8ba6b1"/><rect x="951.57" y="309.25" width="29.82" height="29.83" fill="#77889d"/><rect x="980.80" y="309.25" width="29.82" height="29.83" fill="#869eac"/><rect x="1010.02" y="309.25" width="29.82" height="29.83" fill="#77889d"/><rect x="1039.25" y="309.25" width="29.82" height="29.83" fill="#666e8a"/><rect x="1068.47" y="309.25" width="29.82" height="29.83" fill="#7c90a2"/><rect x="1097.70" y="309.25" width="29.82" height="29.83" fill="#a5caca"/><rect x="1126.92" y="309.25" width="29.82" height="29.83" fill="#9fc4c5"/><rect x="1156.15" y="309.25" width="29.82" height="29.83" fill="#9fc4c5"/><rect x="1185.38" y="309.25" width="29.82" height="29.83" fill="#8ba6b1"/><rect x="747.00" y="338.48" width="29.82" height="29.83" fill="#9abcc0"/><rect x="776.23" y="338.48" width="29.82" height="29.83" fill="#8197a7"/><rect x="805.45" y="338.48" width="29.82" height="29.83" fill="#95b5bb"/><rect x="834.67" y="338.48" width="29.82" height="29.83" fill="#90adb6"/><rect x="863.90" y="338.48" width="29.82" height="29.83" fill="#90adb6"/><rect x="893.12" y="338.48" width="29.82" height="29.83" fill="#93b1b9"/><rect x="922.35" y="338.48" width="29.82" height="29.83" fill="#7c90a2"/><rect x="951.57" y="338.48" width="29.82" height="29.83" fill="#7c90a2"/><rect x="980.80" y="338.48" width="29.82" height="29.83" fill="#8197a7"/><rect x="1010.02" y="338.48" width="29.82" height="29.83" fill="#77889d"/><rect x="1039.25" y="338.48" width="29.82" height="29.83" fill="#869eac"/><rect x="1068.47" y="338.48" width="29.82" height="29.83" fill="#8ba6b1"/><rect x="1097.70" y="338.48" width="29.82" height="29.83" fill="#9abcc0"/><rect x="1126.92" y="338.48" width="29.82" height="29.83" fill="#9fc4c5"/><rect x="1156.15" y="338.48" width="29.82" height="29.83" fill="#9abcc0"/><rect x="1185.38" y="338.48" width="29.82" height="29.83" fill="#8ba6b1"/><rect x="747.00" y="367.70" width="29.82" height="29.83" fill="#9abcc0"/><rect x="776.23" y="367.70" width="29.82" height="29.83" fill="#9fc4c5"/><rect x="805.45" y="367.70" width="29.82" height="29.83" fill="#8ba6b1"/><rect x="834.67" y="367.70" width="29.82" height="29.83" fill="#90adb6"/><rect x="863.90" y="367.70" width="29.82" height="29.83" fill="#9fc4c5"/><rect x="893.12" y="367.70" width="29.82" height="29.83" fill="#9fc4c5"/><rect x="922.35" y="367.70" width="29.82" height="29.83" fill="#95b5bb"/><rect x="951.57" y="367.70" width="29.82" height="29.83" fill="#8ba6b1"/><rect x="980.80" y="367.70" width="29.82" height="29.83" fill="#8ba6b1"/><rect x="1010.02" y="367.70" width="29.82" height="29.83" fill="#90adb6"/><rect x="1039.25" y="367.70" width="29.82" height="29.83" fill="#9abcc0"/><rect x="1068.47" y="367.70" width="29.82" height="29.83" fill="#c2dbdb"/><rect x="1097.70" y="367.70" width="29.82" height="29.83" fill="#d7e8e8"/><rect x="1126.92" y="367.70" width="29.82" height="29.83" fill="#ffffff"/><rect x="1156.15" y="367.70" width="29.82" height="29.83" fill="#d2e4e4"/><rect x="1185.38" y="367.70" width="29.82" height="29.83" fill="#95b5bb"/><rect x="747.00" y="396.93" width="29.82" height="29.83" fill="#869eac"/><rect x="776.23" y="396.93" width="29.82" height="29.83" fill="#869eac"/><rect x="805.45" y="396.93" width="29.82" height="29.83" fill="#869eac"/><rect x="834.67" y="396.93" width="29.82" height="29.83" fill="#b2d2d2"/><rect x="863.90" y="396.93" width="29.82" height="29.83" fill="#90adb6"/><rect x="893.12" y="396.93" width="29.82" height="29.83" fill="#b2d2d2"/><rect x="922.35" y="396.93" width="29.82" height="29.83" fill="#8197a7"/><rect x="951.57" y="396.93" width="29.82" height="29.83" fill="#77889d"/><rect x="980.80" y="396.93" width="29.82" height="29.83" fill="#75849a"/><rect x="1010.02" y="396.93" width="29.82" height="29.83" fill="#a5caca"/><rect x="1039.25" y="396.93" width="29.82" height="29.83" fill="#a5caca"/><rect x="1068.47" y="396.93" width="29.82" height="29.83" fill="#d2e4e4"/><rect x="1097.70" y="396.93" width="29.82" height="29.83" fill="#dcebeb"/><rect x="1126.92" y="396.93" width="29.82" height="29.83" fill="#d2e4e4"/><rect x="1156.15" y="396.93" width="29.82" height="29.83" fill="#aed0d0"/><rect x="1185.38" y="396.93" width="29.82" height="29.83" fill="#9abcc0"/><rect x="747.00" y="426.15" width="29.82" height="29.83" fill="#7c90a2"/><rect x="776.23" y="426.15" width="29.82" height="29.83" fill="#8eaab4"/><rect x="805.45" y="426.15" width="29.82" height="29.83" fill="#7c90a2"/><rect x="834.67" y="426.15" width="29.82" height="29.83" fill="#95b5bb"/><rect x="863.90" y="426.15" width="29.82" height="29.83" fill="#869eac"/><rect x="893.12" y="426.15" width="29.82" height="29.83" fill="#8197a7"/><rect x="922.35" y="426.15" width="29.82" height="29.83" fill="#90adb6"/><rect x="951.57" y="426.15" width="29.82" height="29.83" fill="#75849a"/><rect x="980.80" y="426.15" width="29.82" height="29.83" fill="#95b5bb"/><rect x="1010.02" y="426.15" width="29.82" height="29.83" fill="#a9cdcd"/><rect x="1039.25" y="426.15" width="29.82" height="29.83" fill="#a5caca"/><rect x="1068.47" y="426.15" width="29.82" height="29.83" fill="#aed0d0"/><rect x="1097.70" y="426.15" width="29.82" height="29.83" fill="#b2d2d2"/><rect x="1126.92" y="426.15" width="29.82" height="29.83" fill="#a5caca"/><rect x="1156.15" y="426.15" width="29.82" height="29.83" fill="#95b5bb"/><rect x="1185.38" y="426.15" width="29.82" height="29.83" fill="#869eac"/><rect x="747.00" y="455.38" width="29.82" height="29.83" fill="#90adb6"/><rect x="776.23" y="455.38" width="29.82" height="29.83" fill="#7c90a2"/><rect x="805.45" y="455.38" width="29.82" height="29.83" fill="#90adb6"/><rect x="834.67" y="455.38" width="29.82" height="29.83" fill="#9abcc0"/><rect x="863.90" y="455.38" width="29.82" height="29.83" fill="#9fc4c5"/><rect x="893.12" y="455.38" width="29.82" height="29.83" fill="#9abcc0"/><rect x="922.35" y="455.38" width="29.82" height="29.83" fill="#8197a7"/><rect x="951.57" y="455.38" width="29.82" height="29.83" fill="#8ba6b1"/><rect x="980.80" y="455.38" width="29.82" height="29.83" fill="#8ba6b1"/><rect x="1010.02" y="455.38" width="29.82" height="29.83" fill="#8ba6b1"/><rect x="1039.25" y="455.38" width="29.82" height="29.83" fill="#9fc4c5"/><rect x="1068.47" y="455.38" width="29.82" height="29.83" fill="#869eac"/><rect x="1097.70" y="455.38" width="29.82" height="29.83" fill="#8eaab4"/><rect x="1126.92" y="455.38" width="29.82" height="29.83" fill="#8eaab4"/><rect x="1156.15" y="455.38" width="29.82" height="29.83" fill="#8ba6b1"/><rect x="1185.38" y="455.38" width="29.82" height="29.83" fill="#798ca0"/></g>
<rect x="1046.5" y="450" width="146.6" height="12.2" fill="#000"/>
<text x="1155.3" y="59.6" font-size="37" font-weight="bold" fill="#fff" stroke="#fff" stroke-width="0">(b)</text>
<g stroke="#262626" stroke-width="2.3"><line x1="761.6" y1="17.0" x2="761.6" y2="22.0"/><line x1="761.6" y1="484.6" x2="761.6" y2="479.6"/><line x1="907.7" y1="17.0" x2="907.7" y2="22.0"/><line x1="907.7" y1="484.6" x2="907.7" y2="479.6"/><line x1="1053.9" y1="17.0" x2="1053.9" y2="22.0"/><line x1="1053.9" y1="484.6" x2="1053.9" y2="479.6"/><line x1="1200.0" y1="17.0" x2="1200.0" y2="22.0"/><line x1="1200.0" y1="484.6" x2="1200.0" y2="479.6"/><line x1="747.0" y1="31.1" x2="752.0" y2="31.1"/><line x1="1214.6" y1="31.1" x2="1209.6" y2="31.1"/><line x1="747.0" y1="104.4" x2="752.0" y2="104.4"/><line x1="1214.6" y1="104.4" x2="1209.6" y2="104.4"/><line x1="747.0" y1="177.6" x2="752.0" y2="177.6"/><line x1="1214.6" y1="177.6" x2="1209.6" y2="177.6"/><line x1="747.0" y1="250.9" x2="752.0" y2="250.9"/><line x1="1214.6" y1="250.9" x2="1209.6" y2="250.9"/><line x1="747.0" y1="324.2" x2="752.0" y2="324.2"/><line x1="1214.6" y1="324.2" x2="1209.6" y2="324.2"/><line x1="747.0" y1="397.4" x2="752.0" y2="397.4"/><line x1="1214.6" y1="397.4" x2="1209.6" y2="397.4"/><line x1="747.0" y1="470.7" x2="752.0" y2="470.7"/><line x1="1214.6" y1="470.7" x2="1209.6" y2="470.7"/></g>
<rect x="747.0" y="17.0" width="467.6" height="467.6" fill="none" stroke="#262626" stroke-width="2.3"/>
<rect x="747.0" y="501.5" width="467.6" height="41.5" fill="url(#gb)"/>
<g stroke="#262626" stroke-width="2.3"><line x1="747.0" y1="543.0" x2="747.0" y2="538.0"/><line x1="980.8" y1="543.0" x2="980.8" y2="538.0"/><line x1="1214.6" y1="543.0" x2="1214.6" y2="538.0"/></g>
<rect x="747.0" y="501.5" width="467.6" height="41.5" fill="none" stroke="#262626" stroke-width="2.3"/>
<text x="745.3" y="585.8" font-size="32.4" text-anchor="middle" fill="#262626" stroke="#262626" stroke-width="1.0">0</text>
<text x="980.3" y="585.8" font-size="32.4" text-anchor="middle" fill="#262626" stroke="#262626" stroke-width="1.0">0.5</text>
<path d="M1212.65,586.40 L1216.30,586.40 L1216.30,563.60 L1212.83,563.60 Q1211.54,566.79 1207.00,567.93 L1207.00,570.67 Q1211.18,570.21 1212.65,568.62 Z" fill="#262626"/>
<text x="832.2" y="626.6" font-size="32.35" fill="#262626" stroke="#262626" stroke-width="1.0">amplitude (arb units)</text>
<g shape-rendering="crispEdges"><rect x="130.00" y="668.70" width="29.89" height="29.88" fill="#ff6e00"/><rect x="159.29" y="668.70" width="29.89" height="29.88" fill="#ff2800"/><rect x="188.57" y="668.70" width="29.89" height="29.88" fill="#ff5a00"/><rect x="217.86" y="668.70" width="29.89" height="29.88" fill="#ff8200"/><rect x="247.15" y="668.70" width="29.89" height="29.88" fill="#ffaa00"/><rect x="276.44" y="668.70" width="29.89" height="29.88" fill="#ffaf00"/><rect x="305.73" y="668.70" width="29.89" height="29.88" fill="#ff6e00"/><rect x="335.01" y="668.70" width="29.89" height="29.88" fill="#ff5a00"/><rect x="364.30" y="668.70" width="29.89" height="29.88" fill="#ff4600"/><rect x="393.59" y="668.70" width="29.89" height="29.88" fill="#ff6400"/><rect x="422.88" y="668.70" width="29.89" height="29.88" fill="#ffb400"/><rect x="452.16" y="668.70" width="29.89" height="29.88" fill="#ffb400"/><rect x="481.45" y="668.70" width="29.89" height="29.88" fill="#ff7800"/><rect x="510.74" y="668.70" width="29.89" height="29.88" fill="#ff7800"/><rect x="540.03" y="668.70" width="29.89" height="29.88" fill="#ffc800"/><rect x="569.31" y="668.70" width="29.89" height="29.88" fill="#fff000"/><rect x="130.00" y="697.98" width="29.89" height="29.88" fill="#ffa000"/><rect x="159.29" y="697.98" width="29.89" height="29.88" fill="#ffa500"/><rect x="188.57" y="697.98" width="29.89" height="29.88" fill="#ffb900"/><rect x="217.86" y="697.98" width="29.89" height="29.88" fill="#ffcd00"/><rect x="247.15" y="697.98" width="29.89" height="29.88" fill="#ffeb00"/><rect x="276.44" y="697.98" width="29.89" height="29.88" fill="#ffd200"/><rect x="305.73" y="697.98" width="29.89" height="29.88" fill="#ffd700"/><rect x="335.01" y="697.98" width="29.89" height="29.88" fill="#ff6400"/><rect x="364.30" y="697.98" width="29.89" height="29.88" fill="#ff5f00"/><rect x="393.59" y="697.98" width="29.89" height="29.88" fill="#ff6e00"/><rect x="422.88" y="697.98" width="29.89" height="29.88" fill="#ffc800"/><rect x="452.16" y="697.98" width="29.89" height="29.88" fill="#ffa000"/><rect x="481.45" y="697.98" width="29.89" height="29.88" fill="#ff7800"/><rect x="510.74" y="697.98" width="29.89" height="29.88" fill="#ffbe00"/><rect x="540.03" y="697.98" width="29.89" height="29.88" fill="#ffff00"/><rect x="569.31" y="697.98" width="29.89" height="29.88" fill="#ffff00"/><rect x="130.00" y="727.26" width="29.89" height="29.88" fill="#ffe100"/><rect x="159.29" y="727.26" width="29.89" height="29.88" fill="#ffff00"/><rect x="188.57" y="727.26" width="29.89" height="29.88" fill="#ffff00"/><rect x="217.86" y="727.26" width="29.89" height="29.88" fill="#ffff00"/><rect x="247.15" y="727.26" width="29.89" height="29.88" fill="#ffff00"/><rect x="276.44" y="727.26" width="29.89" height="29.88" fill="#ffff00"/><rect x="305.73" y="727.26" width="29.89" height="29.88" fill="#ffff00"/><rect x="335.01" y="727.26" width="29.89" height="29.88" fill="#ffbe00"/><rect x="364.30" y="727.26" width="29.89" height="29.88" fill="#ffaa00"/><rect x="393.59" y="727.26" width="29.89" height="29.88" fill="#ffbe00"/><rect x="422.88" y="727.26" width="29.89" height="29.88" fill="#ffff00"/><rect x="452.16" y="727.26" width="29.89" height="29.88" fill="#ffff00"/><rect x="481.45" y="727.26" width="29.89" height="29.88" fill="#ffff00"/><rect x="510.74" y="727.26" width="29.89" height="29.88" fill="#ffff00"/><rect x="540.03" y="727.26" width="29.89" height="29.88" fill="#ffff00"/><rect x="569.31" y="727.26" width="29.89" height="29.88" fill="#ffff00"/><rect x="130.00" y="756.54" width="29.89" height="29.88" fill="#ffff00"/><rect x="159.29" y="756.54" width="29.89" height="29.88" fill="#ffff00"/><rect x="188.57" y="756.54" width="29.89" height="29.88" fill="#ffff1e"/><rect x="217.86" y="756.54" width="29.89" height="29.88" fill="#ffff00"/><rect x="247.15" y="756.54" width="29.89" height="29.88" fill="#ffff00"/><rect x="276.44" y="756.54" width="29.89" height="29.88" fill="#ffff1e"/><rect x="305.73" y="756.54" width="29.89" height="29.88" fill="#ffff00"/><rect x="335.01" y="756.54" width="29.89" height="29.88" fill="#ffff00"/><rect x="364.30" y="756.54" width="29.89" height="29.88" fill="#ffe600"/><rect x="393.59" y="756.54" width="29.89" height="29.88" fill="#fff000"/><rect x="422.88" y="756.54" width="29.89" height="29.88" fill="#ffff00"/><rect x="452.16" y="756.54" width="29.89" height="29.88" fill="#ffff00"/><rect x="481.45" y="756.54" width="29.89" height="29.88" fill="#ffff00"/><rect x="510.74" y="756.54" width="29.89" height="29.88" fill="#ffff00"/><rect x="540.03" y="756.54" width="29.89" height="29.88" fill="#ffd700"/><rect x="569.31" y="756.54" width="29.89" height="29.88" fill="#ffb400"/><rect x="130.00" y="785.83" width="29.89" height="29.88" fill="#ff8c00"/><rect x="159.29" y="785.83" width="29.89" height="29.88" fill="#ff6400"/><rect x="188.57" y="785.83" width="29.89" height="29.88" fill="#ff6e00"/><rect x="217.86" y="785.83" width="29.89" height="29.88" fill="#ffa000"/><rect x="247.15" y="785.83" width="29.89" height="29.88" fill="#ffaf00"/><rect x="276.44" y="785.83" width="29.89" height="29.88" fill="#ffb900"/><rect x="305.73" y="785.83" width="29.89" height="29.88" fill="#ff8c00"/><rect x="335.01" y="785.83" width="29.89" height="29.88" fill="#ff7800"/><rect x="364.30" y="785.83" width="29.89" height="29.88" fill="#ff8c00"/><rect x="393.59" y="785.83" width="29.89" height="29.88" fill="#ff7d00"/><rect x="422.88" y="785.83" width="29.89" height="29.88" fill="#ff9100"/><rect x="452.16" y="785.83" width="29.89" height="29.88" fill="#ffa500"/><rect x="481.45" y="785.83" width="29.89" height="29.88" fill="#ffc800"/><rect x="510.74" y="785.83" width="29.89" height="29.88" fill="#ff7800"/><rect x="540.03" y="785.83" width="29.89" height="29.88" fill="#ff4600"/><rect x="569.31" y="785.83" width="29.89" height="29.88" fill="#ff5a00"/><rect x="130.00" y="815.11" width="29.89" height="29.88" fill="#ff7800"/><rect x="159.29" y="815.11" width="29.89" height="29.88" fill="#ff9100"/><rect x="188.57" y="815.11" width="29.89" height="29.88" fill="#ff4600"/><rect x="217.86" y="815.11" width="29.89" height="29.88" fill="#ff9600"/><rect x="247.15" y="815.11" width="29.89" height="29.88" fill="#ffdc00"/><rect x="276.44" y="815.11" width="29.89" height="29.88" fill="#ffb900"/><rect x="305.73" y="815.11" width="29.89" height="29.88" fill="#ffb400"/><rect x="335.01" y="815.11" width="29.89" height="29.88" fill="#ffb400"/><rect x="364.30" y="815.11" width="29.89" height="29.88" fill="#ffc800"/><rect x="393.59" y="815.11" width="29.89" height="29.88" fill="#ffc800"/><rect x="422.88" y="815.11" width="29.89" height="29.88" fill="#ffbe00"/><rect x="452.16" y="815.11" width="29.89" height="29.88" fill="#ffa500"/><rect x="481.45" y="815.11" width="29.89" height="29.88" fill="#ffb900"/><rect x="510.74" y="815.11" width="29.89" height="29.88" fill="#ffb400"/><rect x="540.03" y="815.11" width="29.89" height="29.88" fill="#ff9600"/><rect x="569.31" y="815.11" width="29.89" height="29.88" fill="#ffaa00"/><rect x="130.00" y="844.39" width="29.89" height="29.88" fill="#ffa500"/><rect x="159.29" y="844.39" width="29.89" height="29.88" fill="#ffa500"/><rect x="188.57" y="844.39" width="29.89" height="29.88" fill="#ffcd00"/><rect x="217.86" y="844.39" width="29.89" height="29.88" fill="#ffb400"/><rect x="247.15" y="844.39" width="29.89" height="29.88" fill="#ffd200"/><rect x="276.44" y="844.39" width="29.89" height="29.88" fill="#ffc300"/><rect x="305.73" y="844.39" width="29.89" height="29.88" fill="#ffc300"/><rect x="335.01" y="844.39" width="29.89" height="29.88" fill="#ffeb00"/><rect x="364.30" y="844.39" width="29.89" height="29.88" fill="#ffff00"/><rect x="393.59" y="844.39" width="29.89" height="29.88" fill="#ffff00"/><rect x="422.88" y="844.39" width="29.89" height="29.88" fill="#ffd200"/><rect x="452.16" y="844.39" width="29.89" height="29.88" fill="#ff8c00"/><rect x="481.45" y="844.39" width="29.89" height="29.88" fill="#ffa500"/><rect x="510.74" y="844.39" width="29.89" height="29.88" fill="#ffc800"/><rect x="540.03" y="844.39" width="29.89" height="29.88" fill="#ffff00"/><rect x="569.31" y="844.39" width="29.89" height="29.88" fill="#ffff00"/><rect x="130.00" y="873.67" width="29.89" height="29.88" fill="#fffa00"/><rect x="159.29" y="873.67" width="29.89" height="29.88" fill="#ffe100"/><rect x="188.57" y="873.67" width="29.89" height="29.88" fill="#ffe100"/><rect x="217.86" y="873.67" width="29.89" height="29.88" fill="#fffa00"/><rect x="247.15" y="873.67" width="29.89" height="29.88" fill="#ffe600"/><rect x="276.44" y="873.67" width="29.89" height="29.88" fill="#ffeb00"/><rect x="305.73" y="873.67" width="29.89" height="29.88" fill="#ffff00"/><rect x="335.01" y="873.67" width="29.89" height="29.88" fill="#ffff00"/><rect x="364.30" y="873.67" width="29.89" height="29.88" fill="#ffff00"/><rect x="393.59" y="873.67" width="29.89" height="29.88" fill="#ffff00"/><rect x="422.88" y="873.67" width="29.89" height="29.88" fill="#ffff00"/><rect x="452.16" y="873.67" width="29.89" height="29.88" fill="#fffa00"/><rect x="481.45" y="873.67" width="29.89" height="29.88" fill="#ffaa00"/><rect x="510.74" y="873.67" width="29.89" height="29.88" fill="#ffd700"/><rect x="540.03" y="873.67" width="29.89" height="29.88" fill="#ffff00"/><rect x="569.31" y="873.67" width="29.89" height="29.88" fill="#ffff00"/><rect x="130.00" y="902.95" width="29.89" height="29.88" fill="#ffbe00"/><rect x="159.29" y="902.95" width="29.89" height="29.88" fill="#ffc800"/><rect x="188.57" y="902.95" width="29.89" height="29.88" fill="#ffd200"/><rect x="217.86" y="902.95" width="29.89" height="29.88" fill="#ffaf00"/><rect x="247.15" y="902.95" width="29.89" height="29.88" fill="#ffc300"/><rect x="276.44" y="902.95" width="29.89" height="29.88" fill="#ff8c00"/><rect x="305.73" y="902.95" width="29.89" height="29.88" fill="#ff8c00"/><rect x="335.01" y="902.95" width="29.89" height="29.88" fill="#ffb900"/><rect x="364.30" y="902.95" width="29.89" height="29.88" fill="#ffb400"/><rect x="393.59" y="902.95" width="29.89" height="29.88" fill="#ffb900"/><rect x="422.88" y="902.95" width="29.89" height="29.88" fill="#ffaa00"/><rect x="452.16" y="902.95" width="29.89" height="29.88" fill="#ff8200"/><rect x="481.45" y="902.95" width="29.89" height="29.88" fill="#ffb400"/><rect x="510.74" y="902.95" width="29.89" height="29.88" fill="#ff4600"/><rect x="540.03" y="902.95" width="29.89" height="29.88" fill="#ff4600"/><rect x="569.31" y="902.95" width="29.89" height="29.88" fill="#ffaa00"/><rect x="130.00" y="932.23" width="29.89" height="29.88" fill="#ff8700"/><rect x="159.29" y="932.23" width="29.89" height="29.88" fill="#ffa500"/><rect x="188.57" y="932.23" width="29.89" height="29.88" fill="#ffdc00"/><rect x="217.86" y="932.23" width="29.89" height="29.88" fill="#ffc800"/><rect x="247.15" y="932.23" width="29.89" height="29.88" fill="#ffaa00"/><rect x="276.44" y="932.23" width="29.89" height="29.88" fill="#ff7300"/><rect x="305.73" y="932.23" width="29.89" height="29.88" fill="#ff7800"/><rect x="335.01" y="932.23" width="29.89" height="29.88" fill="#ffb900"/><rect x="364.30" y="932.23" width="29.89" height="29.88" fill="#ffa500"/><rect x="393.59" y="932.23" width="29.89" height="29.88" fill="#ffe600"/><rect x="422.88" y="932.23" width="29.89" height="29.88" fill="#ffe600"/><rect x="452.16" y="932.23" width="29.89" height="29.88" fill="#ffe100"/><rect x="481.45" y="932.23" width="29.89" height="29.88" fill="#ffc300"/><rect x="510.74" y="932.23" width="29.89" height="29.88" fill="#ffb400"/><rect x="540.03" y="932.23" width="29.89" height="29.88" fill="#ffc800"/><rect x="569.31" y="932.23" width="29.89" height="29.88" fill="#ffc800"/><rect x="130.00" y="961.51" width="29.89" height="29.88" fill="#ffc800"/><rect x="159.29" y="961.51" width="29.89" height="29.88" fill="#ffcd00"/><rect x="188.57" y="961.51" width="29.89" height="29.88" fill="#ffd700"/><rect x="217.86" y="961.51" width="29.89" height="29.88" fill="#ffd200"/><rect x="247.15" y="961.51" width="29.89" height="29.88" fill="#ffb900"/><rect x="276.44" y="961.51" width="29.89" height="29.88" fill="#ffaa00"/><rect x="305.73" y="961.51" width="29.89" height="29.88" fill="#ffcd00"/><rect x="335.01" y="961.51" width="29.89" height="29.88" fill="#ffc800"/><rect x="364.30" y="961.51" width="29.89" height="29.88" fill="#fffa00"/><rect x="393.59" y="961.51" width="29.89" height="29.88" fill="#ffd200"/><rect x="422.88" y="961.51" width="29.89" height="29.88" fill="#ffff00"/><rect x="452.16" y="961.51" width="29.89" height="29.88" fill="#ffff00"/><rect x="481.45" y="961.51" width="29.89" height="29.88" fill="#ffc300"/><rect x="510.74" y="961.51" width="29.89" height="29.88" fill="#ffb400"/><rect x="540.03" y="961.51" width="29.89" height="29.88" fill="#ffe600"/><rect x="569.31" y="961.51" width="29.89" height="29.88" fill="#fffa00"/><rect x="130.00" y="990.79" width="29.89" height="29.88" fill="#ffe100"/><rect x="159.29" y="990.79" width="29.89" height="29.88" fill="#ffd200"/><rect x="188.57" y="990.79" width="29.89" height="29.88" fill="#ffd700"/><rect x="217.86" y="990.79" width="29.89" height="29.88" fill="#ffd200"/><rect x="247.15" y="990.79" width="29.89" height="29.88" fill="#ffd200"/><rect x="276.44" y="990.79" width="29.89" height="29.88" fill="#ffcd00"/><rect x="305.73" y="990.79" width="29.89" height="29.88" fill="#ffd200"/><rect x="335.01" y="990.79" width="29.89" height="29.88" fill="#ffff00"/><rect x="364.30" y="990.79" width="29.89" height="29.88" fill="#ffff00"/><rect x="393.59" y="990.79" width="29.89" height="29.88" fill="#ffff00"/><rect x="422.88" y="990.79" width="29.89" height="29.88" fill="#ffff00"/><rect x="452.16" y="990.79" width="29.89" height="29.88" fill="#ffff00"/><rect x="481.45" y="990.79" width="29.89" height="29.88" fill="#ffbe00"/><rect x="510.74" y="990.79" width="29.89" height="29.88" fill="#ffeb00"/><rect x="540.03" y="990.79" width="29.89" height="29.88" fill="#fffa00"/><rect x="569.31" y="990.79" width="29.89" height="29.88" fill="#ffff00"/><rect x="130.00" y="1020.08" width="29.89" height="29.88" fill="#fffa00"/><rect x="159.29" y="1020.08" width="29.89" height="29.88" fill="#ffeb00"/><rect x="188.57" y="1020.08" width="29.89" height="29.88" fill="#ffe600"/><rect x="217.86" y="1020.08" width="29.89" height="29.88" fill="#ffeb00"/><rect x="247.15" y="1020.08" width="29.89" height="29.88" fill="#ffcd00"/><rect x="276.44" y="1020.08" width="29.89" height="29.88" fill="#ffc800"/><rect x="305.73" y="1020.08" width="29.89" height="29.88" fill="#ffcd00"/><rect x="335.01" y="1020.08" width="29.89" height="29.88" fill="#ffc300"/><rect x="364.30" y="1020.08" width="29.89" height="29.88" fill="#ffbe00"/><rect x="393.59" y="1020.08" width="29.89" height="29.88" fill="#ffa000"/><rect x="422.88" y="1020.08" width="29.89" height="29.88" fill="#ff8200"/><rect x="452.16" y="1020.08" width="29.89" height="29.88" fill="#ff8c00"/><rect x="481.45" y="1020.08" width="29.89" height="29.88" fill="#ff5000"/><rect x="510.74" y="1020.08" width="29.89" height="29.88" fill="#ff2d00"/><rect x="540.03" y="1020.08" width="29.89" height="29.88" fill="#ff3c00"/><rect x="569.31" y="1020.08" width="29.89" height="29.88" fill="#ff4600"/><rect x="130.00" y="1049.36" width="29.89" height="29.88" fill="#ffc800"/><rect x="159.29" y="1049.36" width="29.89" height="29.88" fill="#ffdc00"/><rect x="188.57" y="1049.36" width="29.89" height="29.88" fill="#ffdc00"/><rect x="217.86" y="1049.36" width="29.89" height="29.88" fill="#ffaa00"/><rect x="247.15" y="1049.36" width="29.89" height="29.88" fill="#ff8700"/><rect x="276.44" y="1049.36" width="29.89" height="29.88" fill="#ffaf00"/><rect x="305.73" y="1049.36" width="29.89" height="29.88" fill="#ffd200"/><rect x="335.01" y="1049.36" width="29.89" height="29.88" fill="#fffa00"/><rect x="364.30" y="1049.36" width="29.89" height="29.88" fill="#ffbe00"/><rect x="393.59" y="1049.36" width="29.89" height="29.88" fill="#ffa000"/><rect x="422.88" y="1049.36" width="29.89" height="29.88" fill="#ff8c00"/><rect x="452.16" y="1049.36" width="29.89" height="29.88" fill="#ff6e00"/><rect x="481.45" y="1049.36" width="29.89" height="29.88" fill="#ff5f00"/><rect x="510.74" y="1049.36" width="29.89" height="29.88" fill="#ff8c00"/><rect x="540.03" y="1049.36" width="29.89" height="29.88" fill="#ffaa00"/><rect x="569.31" y="1049.36" width="29.89" height="29.88" fill="#ffa000"/><rect x="130.00" y="1078.64" width="29.89" height="29.88" fill="#ffe100"/><rect x="159.29" y="1078.64" width="29.89" height="29.88" fill="#fff500"/><rect x="188.57" y="1078.64" width="29.89" height="29.88" fill="#ffc300"/><rect x="217.86" y="1078.64" width="29.89" height="29.88" fill="#ffa500"/><rect x="247.15" y="1078.64" width="29.89" height="29.88" fill="#ff9600"/><rect x="276.44" y="1078.64" width="29.89" height="29.88" fill="#ff9600"/><rect x="305.73" y="1078.64" width="29.89" height="29.88" fill="#ffc800"/><rect x="335.01" y="1078.64" width="29.89" height="29.88" fill="#fffa00"/><rect x="364.30" y="1078.64" width="29.89" height="29.88" fill="#ffc800"/><rect x="393.59" y="1078.64" width="29.89" height="29.88" fill="#ffa500"/><rect x="422.88" y="1078.64" width="29.89" height="29.88" fill="#ffb400"/><rect x="452.16" y="1078.64" width="29.89" height="29.88" fill="#ff8200"/><rect x="481.45" y="1078.64" width="29.89" height="29.88" fill="#ff8200"/><rect x="510.74" y="1078.64" width="29.89" height="29.88" fill="#ffdc00"/><rect x="540.03" y="1078.64" width="29.89" height="29.88" fill="#ffff00"/><rect x="569.31" y="1078.64" width="29.89" height="29.88" fill="#ffd700"/><rect x="130.00" y="1107.92" width="29.89" height="29.88" fill="#fffa00"/><rect x="159.29" y="1107.92" width="29.89" height="29.88" fill="#fff500"/><rect x="188.57" y="1107.92" width="29.89" height="29.88" fill="#fff000"/><rect x="217.86" y="1107.92" width="29.89" height="29.88" fill="#ffeb00"/><rect x="247.15" y="1107.92" width="29.89" height="29.88" fill="#ffb900"/><rect x="276.44" y="1107.92" width="29.89" height="29.88" fill="#ffb900"/><rect x="305.73" y="1107.92" width="29.89" height="29.88" fill="#ffff00"/><rect x="335.01" y="1107.92" width="29.89" height="29.88" fill="#ffff00"/><rect x="364.30" y="1107.92" width="29.89" height="29.88" fill="#ffff00"/><rect x="393.59" y="1107.92" width="29.89" height="29.88" fill="#fffa00"/><rect x="422.88" y="1107.92" width="29.89" height="29.88" fill="#ffb900"/><rect x="452.16" y="1107.92" width="29.89" height="29.88" fill="#ffc300"/><rect x="481.45" y="1107.92" width="29.89" height="29.88" fill="#fff000"/><rect x="510.74" y="1107.92" width="29.89" height="29.88" fill="#fff500"/><rect x="540.03" y="1107.92" width="29.89" height="29.88" fill="#fffa00"/><rect x="569.31" y="1107.92" width="29.89" height="29.88" fill="#ffff00"/></g>
<rect x="430.5" y="1102.6" width="146.6" height="12" fill="#1010f0"/>
<text x="540.8" y="710.9" font-size="36" font-weight="bold" fill="#000" stroke="#000" stroke-width="0.3">(c)</text>
<g stroke="#262626" stroke-width="2.3"><line x1="144.6" y1="668.7" x2="144.6" y2="673.7"/><line x1="144.6" y1="1137.2" x2="144.6" y2="1132.2"/><line x1="291.1" y1="668.7" x2="291.1" y2="673.7"/><line x1="291.1" y1="1137.2" x2="291.1" y2="1132.2"/><line x1="437.5" y1="668.7" x2="437.5" y2="673.7"/><line x1="437.5" y1="1137.2" x2="437.5" y2="1132.2"/><line x1="584.0" y1="668.7" x2="584.0" y2="673.7"/><line x1="584.0" y1="1137.2" x2="584.0" y2="1132.2"/><line x1="130.0" y1="682.8" x2="135.0" y2="682.8"/><line x1="598.6" y1="682.8" x2="593.6" y2="682.8"/><line x1="130.0" y1="756.1" x2="135.0" y2="756.1"/><line x1="598.6" y1="756.1" x2="593.6" y2="756.1"/><line x1="130.0" y1="829.3" x2="135.0" y2="829.3"/><line x1="598.6" y1="829.3" x2="593.6" y2="829.3"/><line x1="130.0" y1="902.6" x2="135.0" y2="902.6"/><line x1="598.6" y1="902.6" x2="593.6" y2="902.6"/><line x1="130.0" y1="975.9" x2="135.0" y2="975.9"/><line x1="598.6" y1="975.9" x2="593.6" y2="975.9"/><line x1="130.0" y1="1049.2" x2="135.0" y2="1049.2"/><line x1="598.6" y1="1049.2" x2="593.6" y2="1049.2"/><line x1="130.0" y1="1122.4" x2="135.0" y2="1122.4"/><line x1="598.6" y1="1122.4" x2="593.6" y2="1122.4"/></g>
<rect x="130.0" y="668.7" width="468.6" height="468.5" fill="none" stroke="#262626" stroke-width="2.3"/>
<rect x="129.5" y="1153.7" width="470.0" height="42.3" fill="url(#gc)"/>
<g stroke="#262626" stroke-width="2.3"><line x1="129.5" y1="1196.0" x2="129.5" y2="1191.0"/><line x1="247.0" y1="1196.0" x2="247.0" y2="1191.0"/><line x1="364.5" y1="1196.0" x2="364.5" y2="1191.0"/><line x1="482.0" y1="1196.0" x2="482.0" y2="1191.0"/><line x1="599.5" y1="1196.0" x2="599.5" y2="1191.0"/></g>
<rect x="129.5" y="1153.7" width="470.0" height="42.3" fill="none" stroke="#262626" stroke-width="2.3"/>
<text x="128.5" y="1238.7" font-size="32.4" text-anchor="middle" fill="#262626" stroke="#262626" stroke-width="1.0">298.5</text>
<text x="244.9" y="1238.7" font-size="32.4" text-anchor="middle" fill="#262626" stroke="#262626" stroke-width="1.0">299</text>
<text x="363.4" y="1238.7" font-size="32.4" text-anchor="middle" fill="#262626" stroke="#262626" stroke-width="1.0">299.5</text>
<text x="478.9" y="1238.7" font-size="32.4" text-anchor="middle" fill="#262626" stroke="#262626" stroke-width="1.0">300</text>
<text x="597.8" y="1238.7" font-size="32.4" text-anchor="middle" fill="#262626" stroke="#262626" stroke-width="1.0">300.5</text>
<text x="212.4" y="1290.0" font-size="32.7" fill="#262626" stroke="#262626" stroke-width="1.0">peak position (cm</text>
<rect x="468.1" y="1266.10" width="13.6" height="2.0" fill="#262626"/>
<path d="M490.48,1274.40 L493.20,1274.40 L493.20,1257.20 L490.62,1257.20 Q489.66,1259.61 486.40,1260.47 L486.40,1262.53 Q489.46,1262.19 490.48,1260.98 Z" fill="#262626"/>
<text x="500.8" y="1290.0" font-size="32.5" fill="#262626" stroke="#262626" stroke-width="1.0">)</text>
<g shape-rendering="crispEdges"><rect x="747.00" y="668.70" width="29.82" height="29.87" fill="#915632"/><rect x="776.23" y="668.70" width="29.82" height="29.87" fill="#e98a51"/><rect x="805.45" y="668.70" width="29.82" height="29.87" fill="#87502f"/><rect x="834.67" y="668.70" width="29.82" height="29.87" fill="#704227"/><rect x="863.90" y="668.70" width="29.82" height="29.87" fill="#9b5c36"/><rect x="893.12" y="668.70" width="29.82" height="29.87" fill="#ba6f41"/><rect x="922.35" y="668.70" width="29.82" height="29.87" fill="#774729"/><rect x="951.57" y="668.70" width="29.82" height="29.87" fill="#915632"/><rect x="980.80" y="668.70" width="29.82" height="29.87" fill="#a6623a"/><rect x="1010.02" y="668.70" width="29.82" height="29.87" fill="#87502f"/><rect x="1039.25" y="668.70" width="29.82" height="29.87" fill="#8c5331"/><rect x="1068.47" y="668.70" width="29.82" height="29.87" fill="#87502f"/><rect x="1097.70" y="668.70" width="29.82" height="29.87" fill="#bf7243"/><rect x="1126.92" y="668.70" width="29.82" height="29.87" fill="#bf7243"/><rect x="1156.15" y="668.70" width="29.82" height="29.87" fill="#b0683d"/><rect x="1185.38" y="668.70" width="29.82" height="29.87" fill="#774729"/><rect x="747.00" y="697.97" width="29.82" height="29.87" fill="#814d2d"/><rect x="776.23" y="697.97" width="29.82" height="29.87" fill="#a6623a"/><rect x="805.45" y="697.97" width="29.82" height="29.87" fill="#8c5331"/><rect x="834.67" y="697.97" width="29.82" height="29.87" fill="#774729"/><rect x="863.90" y="697.97" width="29.82" height="29.87" fill="#623a22"/><rect x="893.12" y="697.97" width="29.82" height="29.87" fill="#ab653b"/><rect x="922.35" y="697.97" width="29.82" height="29.87" fill="#5d3720"/><rect x="951.57" y="697.97" width="29.82" height="29.87" fill="#915632"/><rect x="980.80" y="697.97" width="29.82" height="29.87" fill="#b0683d"/><rect x="1010.02" y="697.97" width="29.82" height="29.87" fill="#7c4a2b"/><rect x="1039.25" y="697.97" width="29.82" height="29.87" fill="#724428"/><rect x="1068.47" y="697.97" width="29.82" height="29.87" fill="#a05f38"/><rect x="1097.70" y="697.97" width="29.82" height="29.87" fill="#9b5c36"/><rect x="1126.92" y="697.97" width="29.82" height="29.87" fill="#7c4a2b"/><rect x="1156.15" y="697.97" width="29.82" height="29.87" fill="#9b5c36"/><rect x="1185.38" y="697.97" width="29.82" height="29.87" fill="#814d2d"/><rect x="747.00" y="727.24" width="29.82" height="29.87" fill="#ab653b"/><rect x="776.23" y="727.24" width="29.82" height="29.87" fill="#814d2d"/><rect x="805.45" y="727.24" width="29.82" height="29.87" fill="#5d3720"/><rect x="834.67" y="727.24" width="29.82" height="29.87" fill="#623a22"/><rect x="863.90" y="727.24" width="29.82" height="29.87" fill="#482b19"/><rect x="893.12" y="727.24" width="29.82" height="29.87" fill="#915632"/><rect x="922.35" y="727.24" width="29.82" height="29.87" fill="#915632"/><rect x="951.57" y="727.24" width="29.82" height="29.87" fill="#a6623a"/><rect x="980.80" y="727.24" width="29.82" height="29.87" fill="#814d2d"/><rect x="1010.02" y="727.24" width="29.82" height="29.87" fill="#965934"/><rect x="1039.25" y="727.24" width="29.82" height="29.87" fill="#724428"/><rect x="1068.47" y="727.24" width="29.82" height="29.87" fill="#ab653b"/><rect x="1097.70" y="727.24" width="29.82" height="29.87" fill="#814d2d"/><rect x="1126.92" y="727.24" width="29.82" height="29.87" fill="#724428"/><rect x="1156.15" y="727.24" width="29.82" height="29.87" fill="#a6623a"/><rect x="1185.38" y="727.24" width="29.82" height="29.87" fill="#a6623a"/><rect x="747.00" y="756.51" width="29.82" height="29.87" fill="#4e2e1b"/><rect x="776.23" y="756.51" width="29.82" height="29.87" fill="#814d2d"/><rect x="805.45" y="756.51" width="29.82" height="29.87" fill="#623a22"/><rect x="834.67" y="756.51" width="29.82" height="29.87" fill="#87502f"/><rect x="863.90" y="756.51" width="29.82" height="29.87" fill="#58341f"/><rect x="893.12" y="756.51" width="29.82" height="29.87" fill="#814d2d"/><rect x="922.35" y="756.51" width="29.82" height="29.87" fill="#623a22"/><rect x="951.57" y="756.51" width="29.82" height="29.87" fill="#9b5c36"/><rect x="980.80" y="756.51" width="29.82" height="29.87" fill="#b0683d"/><rect x="1010.02" y="756.51" width="29.82" height="29.87" fill="#b0683d"/><rect x="1039.25" y="756.51" width="29.82" height="29.87" fill="#ba6f41"/><rect x="1068.47" y="756.51" width="29.82" height="29.87" fill="#ab653b"/><rect x="1097.70" y="756.51" width="29.82" height="29.87" fill="#814d2d"/><rect x="1126.92" y="756.51" width="29.82" height="29.87" fill="#d47e4a"/><rect x="1156.15" y="756.51" width="29.82" height="29.87" fill="#9b5c36"/><rect x="1185.38" y="756.51" width="29.82" height="29.87" fill="#915632"/><rect x="747.00" y="785.78" width="29.82" height="29.87" fill="#673d24"/><rect x="776.23" y="785.78" width="29.82" height="29.87" fill="#8c5331"/><rect x="805.45" y="785.78" width="29.82" height="29.87" fill="#a6623a"/><rect x="834.67" y="785.78" width="29.82" height="29.87" fill="#915632"/><rect x="863.90" y="785.78" width="29.82" height="29.87" fill="#5d3720"/><rect x="893.12" y="785.78" width="29.82" height="29.87" fill="#623a22"/><rect x="922.35" y="785.78" width="29.82" height="29.87" fill="#87502f"/><rect x="951.57" y="785.78" width="29.82" height="29.87" fill="#ba6f41"/><rect x="980.80" y="785.78" width="29.82" height="29.87" fill="#915632"/><rect x="1010.02" y="785.78" width="29.82" height="29.87" fill="#ab653b"/><rect x="1039.25" y="785.78" width="29.82" height="29.87" fill="#814d2d"/><rect x="1068.47" y="785.78" width="29.82" height="29.87" fill="#7c4a2b"/><rect x="1097.70" y="785.78" width="29.82" height="29.87" fill="#673d24"/><rect x="1126.92" y="785.78" width="29.82" height="29.87" fill="#87502f"/><rect x="1156.15" y="785.78" width="29.82" height="29.87" fill="#d47e4a"/><rect x="1185.38" y="785.78" width="29.82" height="29.87" fill="#d9814c"/><rect x="747.00" y="815.04" width="29.82" height="29.87" fill="#965934"/><rect x="776.23" y="815.04" width="29.82" height="29.87" fill="#623a22"/><rect x="805.45" y="815.04" width="29.82" height="29.87" fill="#ab653b"/><rect x="834.67" y="815.04" width="29.82" height="29.87" fill="#7c4a2b"/><rect x="863.90" y="815.04" width="29.82" height="29.87" fill="#482b19"/><rect x="893.12" y="815.04" width="29.82" height="29.87" fill="#5d3720"/><rect x="922.35" y="815.04" width="29.82" height="29.87" fill="#814d2d"/><rect x="951.57" y="815.04" width="29.82" height="29.87" fill="#623a22"/><rect x="980.80" y="815.04" width="29.82" height="29.87" fill="#7c4a2b"/><rect x="1010.02" y="815.04" width="29.82" height="29.87" fill="#673d24"/><rect x="1039.25" y="815.04" width="29.82" height="29.87" fill="#774729"/><rect x="1068.47" y="815.04" width="29.82" height="29.87" fill="#4e2e1b"/><rect x="1097.70" y="815.04" width="29.82" height="29.87" fill="#a6623a"/><rect x="1126.92" y="815.04" width="29.82" height="29.87" fill="#774729"/><rect x="1156.15" y="815.04" width="29.82" height="29.87" fill="#724428"/><rect x="1185.38" y="815.04" width="29.82" height="29.87" fill="#9b5c36"/><rect x="747.00" y="844.31" width="29.82" height="29.87" fill="#915632"/><rect x="776.23" y="844.31" width="29.82" height="29.87" fill="#b56c3f"/><rect x="805.45" y="844.31" width="29.82" height="29.87" fill="#774729"/><rect x="834.67" y="844.31" width="29.82" height="29.87" fill="#7c4a2b"/><rect x="863.90" y="844.31" width="29.82" height="29.87" fill="#7c4a2b"/><rect x="893.12" y="844.31" width="29.82" height="29.87" fill="#814d2d"/><rect x="922.35" y="844.31" width="29.82" height="29.87" fill="#a6623a"/><rect x="951.57" y="844.31" width="29.82" height="29.87" fill="#cf7b48"/><rect x="980.80" y="844.31" width="29.82" height="29.87" fill="#5d3720"/><rect x="1010.02" y="844.31" width="29.82" height="29.87" fill="#7c4a2b"/><rect x="1039.25" y="844.31" width="29.82" height="29.87" fill="#724428"/><rect x="1068.47" y="844.31" width="29.82" height="29.87" fill="#b0683d"/><rect x="1097.70" y="844.31" width="29.82" height="29.87" fill="#ca7846"/><rect x="1126.92" y="844.31" width="29.82" height="29.87" fill="#814d2d"/><rect x="1156.15" y="844.31" width="29.82" height="29.87" fill="#5d3720"/><rect x="1185.38" y="844.31" width="29.82" height="29.87" fill="#87502f"/><rect x="747.00" y="873.58" width="29.82" height="29.87" fill="#87502f"/><rect x="776.23" y="873.58" width="29.82" height="29.87" fill="#915632"/><rect x="805.45" y="873.58" width="29.82" height="29.87" fill="#965934"/><rect x="834.67" y="873.58" width="29.82" height="29.87" fill="#87502f"/><rect x="863.90" y="873.58" width="29.82" height="29.87" fill="#5d3720"/><rect x="893.12" y="873.58" width="29.82" height="29.87" fill="#814d2d"/><rect x="922.35" y="873.58" width="29.82" height="29.87" fill="#a05f38"/><rect x="951.57" y="873.58" width="29.82" height="29.87" fill="#724428"/><rect x="980.80" y="873.58" width="29.82" height="29.87" fill="#9b5c36"/><rect x="1010.02" y="873.58" width="29.82" height="29.87" fill="#9b5c36"/><rect x="1039.25" y="873.58" width="29.82" height="29.87" fill="#a6623a"/><rect x="1068.47" y="873.58" width="29.82" height="29.87" fill="#8c5331"/><rect x="1097.70" y="873.58" width="29.82" height="29.87" fill="#814d2d"/><rect x="1126.92" y="873.58" width="29.82" height="29.87" fill="#ca7846"/><rect x="1156.15" y="873.58" width="29.82" height="29.87" fill="#774729"/><rect x="1185.38" y="873.58" width="29.82" height="29.87" fill="#7c4a2b"/><rect x="747.00" y="902.85" width="29.82" height="29.87" fill="#87502f"/><rect x="776.23" y="902.85" width="29.82" height="29.87" fill="#915632"/><rect x="805.45" y="902.85" width="29.82" height="29.87" fill="#8c5331"/><rect x="834.67" y="902.85" width="29.82" height="29.87" fill="#b56c3f"/><rect x="863.90" y="902.85" width="29.82" height="29.87" fill="#bf7243"/><rect x="893.12" y="902.85" width="29.82" height="29.87" fill="#965934"/><rect x="922.35" y="902.85" width="29.82" height="29.87" fill="#9b5c36"/><rect x="951.57" y="902.85" width="29.82" height="29.87" fill="#5b3620"/><rect x="980.80" y="902.85" width="29.82" height="29.87" fill="#915632"/><rect x="1010.02" y="902.85" width="29.82" height="29.87" fill="#623a22"/><rect x="1039.25" y="902.85" width="29.82" height="29.87" fill="#ba6f41"/><rect x="1068.47" y="902.85" width="29.82" height="29.87" fill="#87502f"/><rect x="1097.70" y="902.85" width="29.82" height="29.87" fill="#965934"/><rect x="1126.92" y="902.85" width="29.82" height="29.87" fill="#9b5c36"/><rect x="1156.15" y="902.85" width="29.82" height="29.87" fill="#a6623a"/><rect x="1185.38" y="902.85" width="29.82" height="29.87" fill="#724428"/><rect x="747.00" y="932.12" width="29.82" height="29.87" fill="#87502f"/><rect x="776.23" y="932.12" width="29.82" height="29.87" fill="#a6623a"/><rect x="805.45" y="932.12" width="29.82" height="29.87" fill="#7c4a2b"/><rect x="834.67" y="932.12" width="29.82" height="29.87" fill="#7c4a2b"/><rect x="863.90" y="932.12" width="29.82" height="29.87" fill="#7c4a2b"/><rect x="893.12" y="932.12" width="29.82" height="29.87" fill="#ab653b"/><rect x="922.35" y="932.12" width="29.82" height="29.87" fill="#9b5c36"/><rect x="951.57" y="932.12" width="29.82" height="29.87" fill="#b0683d"/><rect x="980.80" y="932.12" width="29.82" height="29.87" fill="#bf7243"/><rect x="1010.02" y="932.12" width="29.82" height="29.87" fill="#a05f38"/><rect x="1039.25" y="932.12" width="29.82" height="29.87" fill="#915632"/><rect x="1068.47" y="932.12" width="29.82" height="29.87" fill="#814d2d"/><rect x="1097.70" y="932.12" width="29.82" height="29.87" fill="#58341f"/><rect x="1126.92" y="932.12" width="29.82" height="29.87" fill="#ab653b"/><rect x="1156.15" y="932.12" width="29.82" height="29.87" fill="#b0683d"/><rect x="1185.38" y="932.12" width="29.82" height="29.87" fill="#7c4a2b"/><rect x="747.00" y="961.39" width="29.82" height="29.87" fill="#915632"/><rect x="776.23" y="961.39" width="29.82" height="29.87" fill="#432817"/><rect x="805.45" y="961.39" width="29.82" height="29.87" fill="#724428"/><rect x="834.67" y="961.39" width="29.82" height="29.87" fill="#7c4a2b"/><rect x="863.90" y="961.39" width="29.82" height="29.87" fill="#6d4126"/><rect x="893.12" y="961.39" width="29.82" height="29.87" fill="#5d3720"/><rect x="922.35" y="961.39" width="29.82" height="29.87" fill="#b0683d"/><rect x="951.57" y="961.39" width="29.82" height="29.87" fill="#915632"/><rect x="980.80" y="961.39" width="29.82" height="29.87" fill="#915632"/><rect x="1010.02" y="961.39" width="29.82" height="29.87" fill="#814d2d"/><rect x="1039.25" y="961.39" width="29.82" height="29.87" fill="#5d3720"/><rect x="1068.47" y="961.39" width="29.82" height="29.87" fill="#814d2d"/><rect x="1097.70" y="961.39" width="29.82" height="29.87" fill="#ba6f41"/><rect x="1126.92" y="961.39" width="29.82" height="29.87" fill="#ba6f41"/><rect x="1156.15" y="961.39" width="29.82" height="29.87" fill="#a05f38"/><rect x="1185.38" y="961.39" width="29.82" height="29.87" fill="#87502f"/><rect x="747.00" y="990.66" width="29.82" height="29.87" fill="#774729"/><rect x="776.23" y="990.66" width="29.82" height="29.87" fill="#814d2d"/><rect x="805.45" y="990.66" width="29.82" height="29.87" fill="#774729"/><rect x="834.67" y="990.66" width="29.82" height="29.87" fill="#9b5c36"/><rect x="863.90" y="990.66" width="29.82" height="29.87" fill="#6d4126"/><rect x="893.12" y="990.66" width="29.82" height="29.87" fill="#b56c3f"/><rect x="922.35" y="990.66" width="29.82" height="29.87" fill="#673d24"/><rect x="951.57" y="990.66" width="29.82" height="29.87" fill="#915632"/><rect x="980.80" y="990.66" width="29.82" height="29.87" fill="#814d2d"/><rect x="1010.02" y="990.66" width="29.82" height="29.87" fill="#673d24"/><rect x="1039.25" y="990.66" width="29.82" height="29.87" fill="#814d2d"/><rect x="1068.47" y="990.66" width="29.82" height="29.87" fill="#87502f"/><rect x="1097.70" y="990.66" width="29.82" height="29.87" fill="#bf7243"/><rect x="1126.92" y="990.66" width="29.82" height="29.87" fill="#53311d"/><rect x="1156.15" y="990.66" width="29.82" height="29.87" fill="#965934"/><rect x="1185.38" y="990.66" width="29.82" height="29.87" fill="#7c4a2b"/><rect x="747.00" y="1019.92" width="29.82" height="29.87" fill="#8c5331"/><rect x="776.23" y="1019.92" width="29.82" height="29.87" fill="#ba6f41"/><rect x="805.45" y="1019.92" width="29.82" height="29.87" fill="#87502f"/><rect x="834.67" y="1019.92" width="29.82" height="29.87" fill="#9b5c36"/><rect x="863.90" y="1019.92" width="29.82" height="29.87" fill="#774729"/><rect x="893.12" y="1019.92" width="29.82" height="29.87" fill="#774729"/><rect x="922.35" y="1019.92" width="29.82" height="29.87" fill="#8c5331"/><rect x="951.57" y="1019.92" width="29.82" height="29.87" fill="#7c4a2b"/><rect x="980.80" y="1019.92" width="29.82" height="29.87" fill="#623a22"/><rect x="1010.02" y="1019.92" width="29.82" height="29.87" fill="#bf7243"/><rect x="1039.25" y="1019.92" width="29.82" height="29.87" fill="#915632"/><rect x="1068.47" y="1019.92" width="29.82" height="29.87" fill="#8c5331"/><rect x="1097.70" y="1019.92" width="29.82" height="29.87" fill="#724428"/><rect x="1126.92" y="1019.92" width="29.82" height="29.87" fill="#a6623a"/><rect x="1156.15" y="1019.92" width="29.82" height="29.87" fill="#ba6f41"/><rect x="1185.38" y="1019.92" width="29.82" height="29.87" fill="#b0683d"/><rect x="747.00" y="1049.19" width="29.82" height="29.87" fill="#7c4a2b"/><rect x="776.23" y="1049.19" width="29.82" height="29.87" fill="#6d4126"/><rect x="805.45" y="1049.19" width="29.82" height="29.87" fill="#673d24"/><rect x="834.67" y="1049.19" width="29.82" height="29.87" fill="#7c4a2b"/><rect x="863.90" y="1049.19" width="29.82" height="29.87" fill="#7c4a2b"/><rect x="893.12" y="1049.19" width="29.82" height="29.87" fill="#e98a51"/><rect x="922.35" y="1049.19" width="29.82" height="29.87" fill="#482b19"/><rect x="951.57" y="1049.19" width="29.82" height="29.87" fill="#623a22"/><rect x="980.80" y="1049.19" width="29.82" height="29.87" fill="#6d4126"/><rect x="1010.02" y="1049.19" width="29.82" height="29.87" fill="#6d4126"/><rect x="1039.25" y="1049.19" width="29.82" height="29.87" fill="#915632"/><rect x="1068.47" y="1049.19" width="29.82" height="29.87" fill="#965934"/><rect x="1097.70" y="1049.19" width="29.82" height="29.87" fill="#b0683d"/><rect x="1126.92" y="1049.19" width="29.82" height="29.87" fill="#8c5331"/><rect x="1156.15" y="1049.19" width="29.82" height="29.87" fill="#58341f"/><rect x="1185.38" y="1049.19" width="29.82" height="29.87" fill="#b56c3f"/><rect x="747.00" y="1078.46" width="29.82" height="29.87" fill="#915632"/><rect x="776.23" y="1078.46" width="29.82" height="29.87" fill="#623a22"/><rect x="805.45" y="1078.46" width="29.82" height="29.87" fill="#6d4126"/><rect x="834.67" y="1078.46" width="29.82" height="29.87" fill="#6d4126"/><rect x="863.90" y="1078.46" width="29.82" height="29.87" fill="#814d2d"/><rect x="893.12" y="1078.46" width="29.82" height="29.87" fill="#724428"/><rect x="922.35" y="1078.46" width="29.82" height="29.87" fill="#724428"/><rect x="951.57" y="1078.46" width="29.82" height="29.87" fill="#774729"/><rect x="980.80" y="1078.46" width="29.82" height="29.87" fill="#673d24"/><rect x="1010.02" y="1078.46" width="29.82" height="29.87" fill="#53311d"/><rect x="1039.25" y="1078.46" width="29.82" height="29.87" fill="#774729"/><rect x="1068.47" y="1078.46" width="29.82" height="29.87" fill="#774729"/><rect x="1097.70" y="1078.46" width="29.82" height="29.87" fill="#6d4126"/><rect x="1126.92" y="1078.46" width="29.82" height="29.87" fill="#814d2d"/><rect x="1156.15" y="1078.46" width="29.82" height="29.87" fill="#673d24"/><rect x="1185.38" y="1078.46" width="29.82" height="29.87" fill="#724428"/><rect x="747.00" y="1107.73" width="29.82" height="29.87" fill="#8c5331"/><rect x="776.23" y="1107.73" width="29.82" height="29.87" fill="#915632"/><rect x="805.45" y="1107.73" width="29.82" height="29.87" fill="#c57544"/><rect x="834.67" y="1107.73" width="29.82" height="29.87" fill="#724428"/><rect x="863.90" y="1107.73" width="29.82" height="29.87" fill="#915632"/><rect x="893.12" y="1107.73" width="29.82" height="29.87" fill="#b0683d"/><rect x="922.35" y="1107.73" width="29.82" height="29.87" fill="#6d4126"/><rect x="951.57" y="1107.73" width="29.82" height="29.87" fill="#915632"/><rect x="980.80" y="1107.73" width="29.82" height="29.87" fill="#8c5331"/><rect x="1010.02" y="1107.73" width="29.82" height="29.87" fill="#7c4a2b"/><rect x="1039.25" y="1107.73" width="29.82" height="29.87" fill="#965934"/><rect x="1068.47" y="1107.73" width="29.82" height="29.87" fill="#724428"/><rect x="1097.70" y="1107.73" width="29.82" height="29.87" fill="#915632"/><rect x="1126.92" y="1107.73" width="29.82" height="29.87" fill="#915632"/><rect x="1156.15" y="1107.73" width="29.82" height="29.87" fill="#915632"/><rect x="1185.38" y="1107.73" width="29.82" height="29.87" fill="#774729"/></g>
<rect x="1046.5" y="1101.3" width="146.7" height="13.3" fill="#fff"/>
<text x="1155.3" y="711.6" font-size="37" font-weight="bold" fill="#fff" stroke="#fff" stroke-width="0">(d)</text>
<g stroke="#262626" stroke-width="2.3"><line x1="761.6" y1="668.7" x2="761.6" y2="673.7"/><line x1="761.6" y1="1137.0" x2="761.6" y2="1132.0"/><line x1="907.7" y1="668.7" x2="907.7" y2="673.7"/><line x1="907.7" y1="1137.0" x2="907.7" y2="1132.0"/><line x1="1053.9" y1="668.7" x2="1053.9" y2="673.7"/><line x1="1053.9" y1="1137.0" x2="1053.9" y2="1132.0"/><line x1="1200.0" y1="668.7" x2="1200.0" y2="673.7"/><line x1="1200.0" y1="1137.0" x2="1200.0" y2="1132.0"/><line x1="747.0" y1="682.8" x2="752.0" y2="682.8"/><line x1="1214.6" y1="682.8" x2="1209.6" y2="682.8"/><line x1="747.0" y1="756.1" x2="752.0" y2="756.1"/><line x1="1214.6" y1="756.1" x2="1209.6" y2="756.1"/><line x1="747.0" y1="829.3" x2="752.0" y2="829.3"/><line x1="1214.6" y1="829.3" x2="1209.6" y2="829.3"/><line x1="747.0" y1="902.6" x2="752.0" y2="902.6"/><line x1="1214.6" y1="902.6" x2="1209.6" y2="902.6"/><line x1="747.0" y1="975.9" x2="752.0" y2="975.9"/><line x1="1214.6" y1="975.9" x2="1209.6" y2="975.9"/><line x1="747.0" y1="1049.2" x2="752.0" y2="1049.2"/><line x1="1214.6" y1="1049.2" x2="1209.6" y2="1049.2"/><line x1="747.0" y1="1122.4" x2="752.0" y2="1122.4"/><line x1="1214.6" y1="1122.4" x2="1209.6" y2="1122.4"/></g>
<rect x="747.0" y="668.7" width="467.6" height="468.3" fill="none" stroke="#262626" stroke-width="2.3"/>
<rect x="747.0" y="1153.0" width="467.8" height="41.8" fill="url(#gd)"/>
<g stroke="#262626" stroke-width="2.3"><line x1="747.0" y1="1194.8" x2="747.0" y2="1189.8"/><line x1="864.0" y1="1194.8" x2="864.0" y2="1189.8"/><line x1="980.9" y1="1194.8" x2="980.9" y2="1189.8"/><line x1="1097.8" y1="1194.8" x2="1097.8" y2="1189.8"/><line x1="1214.8" y1="1194.8" x2="1214.8" y2="1189.8"/></g>
<rect x="747.0" y="1153.0" width="467.8" height="41.8" fill="none" stroke="#262626" stroke-width="2.3"/>
<text x="744.8" y="1237.7" font-size="32.4" text-anchor="middle" fill="#262626" stroke="#262626" stroke-width="1.0">3</text>
<text x="862.5" y="1237.7" font-size="32.4" text-anchor="middle" fill="#262626" stroke="#262626" stroke-width="1.0">3.5</text>
<text x="979.2" y="1237.7" font-size="32.4" text-anchor="middle" fill="#262626" stroke="#262626" stroke-width="1.0">4</text>
<text x="1096.5" y="1237.7" font-size="32.4" text-anchor="middle" fill="#262626" stroke="#262626" stroke-width="1.0">4.5</text>
<text x="1212.5" y="1237.7" font-size="32.4" text-anchor="middle" fill="#262626" stroke="#262626" stroke-width="1.0">5</text>
<text x="738.2" y="1290.0" font-size="32.4" fill="#262626" stroke="#262626" stroke-width="1.0">full-width at half-maximum (cm</text>
<rect x="1181.0" y="1266.10" width="14.0" height="2.0" fill="#262626"/>
<path d="M1204.51,1274.00 L1207.20,1274.00 L1207.20,1257.20 L1204.65,1257.20 Q1203.68,1259.55 1200.30,1260.39 L1200.30,1262.41 Q1203.40,1262.07 1204.51,1260.90 Z" fill="#262626"/>
<text x="1214.7" y="1290.0" font-size="32.5" fill="#262626" stroke="#262626" stroke-width="1.0">)</text>
</g></svg></body></html>
